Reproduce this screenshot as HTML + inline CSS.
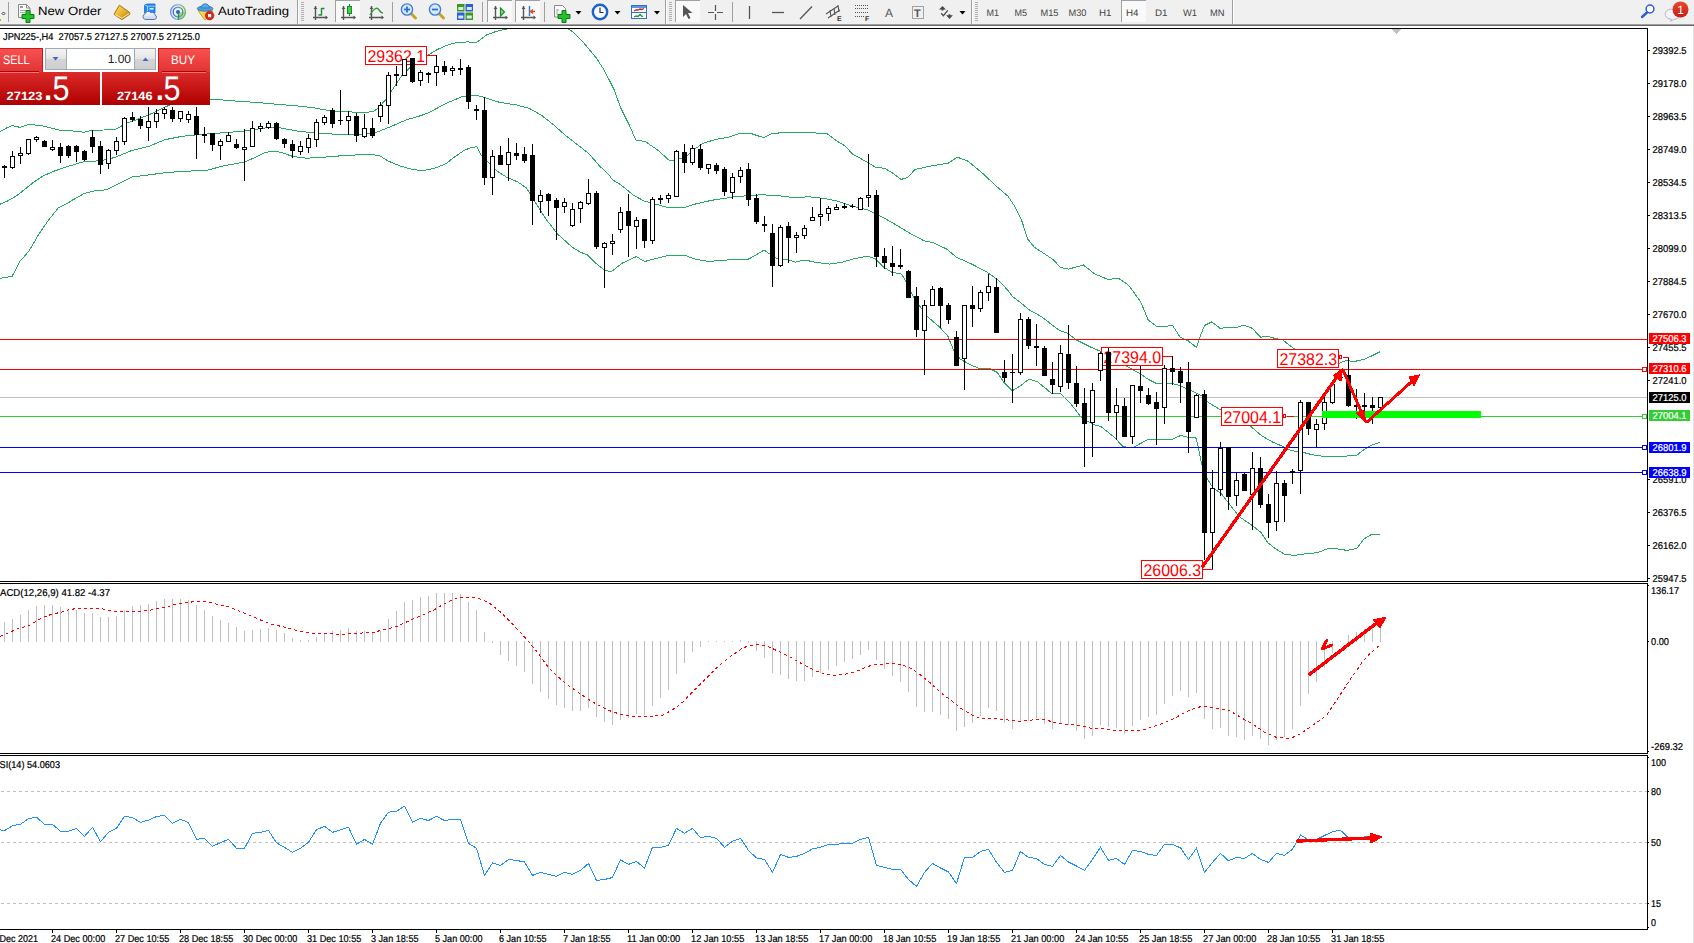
<!DOCTYPE html>
<html><head><meta charset="utf-8"><title>JPN225 H4</title>
<style>html,body{margin:0;padding:0;background:#fff}body{width:1694px;height:943px;overflow:hidden}svg{display:block;font-family:"Liberation Sans", Arial, sans-serif;text-rendering:geometricPrecision}</style>
</head><body>
<svg width="1694" height="943" viewBox="0 0 1694 943">
<rect x="0" y="0" width="1694" height="943" fill="#fff"/>
<g shape-rendering="crispEdges">
<rect x="0" y="28" width="1648" height="1" fill="#000"/>
<rect x="0" y="581" width="1648" height="1" fill="#000"/>
<rect x="0" y="583" width="1648" height="1" fill="#000"/>
<rect x="0" y="753" width="1648" height="1" fill="#000"/>
<rect x="0" y="755" width="1648" height="1" fill="#000"/>
<rect x="0" y="929" width="1648" height="1" fill="#000"/>
<rect x="1647" y="28" width="1" height="554" fill="#000"/>
<rect x="1647" y="583" width="1" height="171" fill="#000"/>
<rect x="1647" y="755" width="1" height="175" fill="#000"/>
<rect x="1693" y="26" width="1" height="917" fill="#e3e3e3"/>
<polygon points="1391,29 1401,29 1396,34" fill="#c0c0c0"/>
<clipPath id="cm"><rect x="0" y="29" width="1647" height="552"/></clipPath>
<g clip-path="url(#cm)">
<polyline fill="none" stroke="#28aa64" stroke-width="1" points="0.0,131.4 6.6,128.0 12.4,125.6 19.8,127.3 29.0,124.4 41.3,125.6 51.0,128.0 61.0,130.6 73.0,131.0 84.0,132.2 92.6,130.2 104.0,130.0 116.0,129.0 121.0,126.4 125.7,123.0 132.0,121.5 149.0,114.8 164.0,107.4 175.0,103.0 190.0,100.0 200.0,99.0 212.5,99.1 231.5,100.8 256.0,102.4 280.0,104.5 296.5,105.8 313.0,107.7 329.6,110.7 346.0,111.9 362.7,112.2 372.6,111.9 377.6,108.6 385.9,99.5 392.5,89.5 402.4,74.7 412.3,65.6 425.5,56.5 437.0,49.8 445.4,45.7 455.3,42.9 467.0,41.9 476.8,42.4 480.0,39.9 486.6,34.9 496.5,31.3 506.5,29.1 511.4,28.6 520.0,27.0 540.0,25.0 560.0,27.0 567.7,28.6 572.6,31.6 582.6,41.5 595.8,57.3 604.0,69.7 614.0,89.5 620.6,107.7 628.9,124.2 635.8,140.0 645.4,141.6 658.6,150.7 669.4,160.6 676.8,159.8 686.7,156.5 693.4,149.9 703.3,143.3 714.9,139.6 728.1,137.3 739.7,133.4 751.3,133.6 763.7,137.7 771.1,133.9 784.4,132.3 807.5,132.3 827.4,133.9 837.3,141.3 845.5,146.3 852.2,153.8 865.4,161.2 875.3,167.0 885.2,168.6 893.5,173.6 901.0,179.4 907.6,177.7 915.0,169.5 931.6,165.8 948.1,163.3 957.2,157.1 968.0,161.2 980.0,171.1 983.3,173.9 996.5,186.4 1008.1,196.3 1014.7,206.2 1021.3,219.4 1027.9,239.3 1034.6,247.5 1040.0,250.9 1053.7,260.0 1060.3,267.4 1068.6,269.1 1083.4,265.0 1095.0,274.1 1108.2,279.5 1118.2,278.2 1128.1,284.8 1132.1,290.0 1140.6,301.7 1148.1,319.8 1156.6,326.4 1167.2,326.1 1172.5,325.3 1179.9,336.8 1188.4,341.0 1196.4,347.4 1200.1,336.8 1204.4,325.6 1211.8,321.9 1220.3,328.5 1225.6,327.4 1237.3,327.2 1243.7,325.1 1252.2,328.3 1260.7,337.3 1267.1,336.2 1274.5,338.3 1283.0,339.9 1289.4,345.3 1293.6,348.4 1310.0,354.0 1325.0,359.0 1339.2,363.3 1346.0,360.5 1354.2,361.5 1365.0,359.2 1373.2,355.1 1380.0,351.7"/>
<polyline fill="none" stroke="#28aa64" stroke-width="1" points="0.0,204.2 8.0,200.8 16.5,195.9 24.8,189.3 33.0,182.7 43.0,176.0 54.6,171.0 66.0,167.0 82.7,162.0 99.0,160.8 107.5,159.5 116.0,157.0 132.0,150.4 149.0,146.3 165.0,139.7 182.0,136.3 198.5,134.7 215.0,133.4 231.5,132.2 248.0,130.6 264.6,128.0 280.0,127.8 296.5,130.9 313.0,132.9 329.6,133.9 346.0,134.7 362.7,134.2 372.6,133.4 379.2,131.2 392.5,125.9 405.7,120.1 420.6,115.7 428.9,112.7 445.4,103.6 462.0,96.7 475.2,95.3 480.0,96.1 490.0,99.4 499.8,102.4 516.4,104.9 529.6,108.5 541.2,115.1 552.8,124.2 566.0,135.8 579.2,146.0 589.2,154.0 595.8,161.5 599.1,165.6 609.0,174.7 612.3,179.6 620.6,184.6 633.8,195.4 643.7,200.8 653.7,203.6 666.9,207.3 685.1,207.3 693.4,204.5 711.6,200.3 736.4,196.5 752.9,195.4 760.0,194.8 776.5,195.4 793.1,197.6 809.6,196.8 826.2,198.8 837.7,201.2 852.6,206.2 867.5,209.8 879.1,215.3 892.3,222.7 908.9,232.7 923.7,240.6 933.7,242.9 946.9,249.2 956.8,257.5 962.7,260.0 973.4,264.9 987.5,272.4 999.1,281.0 1008.1,290.6 1012.3,296.4 1018.0,300.5 1028.9,309.6 1042.1,317.1 1053.7,326.2 1060.0,330.8 1066.9,332.8 1076.5,340.0 1090.0,346.8 1101.6,351.8 1115.0,360.0 1130.0,368.1 1140.6,373.9 1148.1,379.3 1156.6,383.5 1172.5,383.5 1180.0,385.6 1186.3,388.8 1192.3,391.2 1202.2,396.2 1208.9,402.8 1217.0,407.7 1221.3,410.2 1235.0,418.0 1250.2,425.9 1261.8,435.9 1273.4,442.5 1283.3,446.6 1291.6,450.7 1303.1,452.4 1313.0,454.9 1324.6,456.5 1342.0,456.5 1357.0,455.1 1363.6,449.8 1370.2,445.7 1380.1,442.4"/>
<polyline fill="none" stroke="#28aa64" stroke-width="1" points="0.0,278.3 12.1,276.3 20.1,261.2 29.0,251.0 38.0,235.6 48.0,220.7 58.4,207.8 68.5,202.7 71.0,200.9 84.4,193.4 94.0,191.0 106.0,189.8 119.0,183.5 132.0,176.9 149.0,174.9 165.0,172.7 182.0,171.4 207.0,170.3 223.0,166.0 245.0,162.0 256.0,157.0 264.6,152.6 273.0,151.2 280.0,152.1 293.0,156.5 306.5,158.2 321.3,157.4 346.0,155.4 369.3,154.4 379.2,155.4 387.5,160.7 399.0,165.6 412.3,169.4 422.2,170.6 433.8,168.6 445.4,164.0 455.3,156.5 463.6,150.7 470.2,147.8 476.8,146.6 481.0,155.0 488.3,162.3 496.5,170.6 506.5,177.2 518.0,182.1 526.3,187.9 534.6,201.2 546.2,219.4 557.7,234.2 572.6,247.5 580.9,252.4 587.5,254.9 595.8,263.2 604.9,270.6 611.5,271.5 622.2,263.2 636.3,256.6 644.6,261.5 655.3,258.7 666.9,255.7 685.1,255.4 693.4,258.7 708.2,261.5 728.1,259.9 747.9,259.4 760.0,252.6 764.0,250.0 770.0,254.2 776.5,258.3 786.5,259.5 795.6,262.1 804.7,260.0 816.2,262.4 829.5,264.1 842.7,262.1 852.6,259.1 867.5,256.1 875.8,259.1 884.0,267.4 892.3,272.4 901.5,274.1 906.5,282.3 914.7,299.7 928.0,317.1 939.5,327.0 947.8,336.1 953.6,350.1 960.2,359.2 972.6,365.9 979.2,368.3 989.2,368.3 997.4,372.5 1004.0,382.4 1012.3,390.7 1020.6,385.7 1028.9,379.1 1037.2,381.6 1045.4,388.2 1052.0,394.0 1060.3,393.3 1070.0,402.8 1081.5,417.7 1093.0,424.3 1101.3,426.8 1114.6,437.5 1122.9,446.6 1132.8,447.8 1147.7,439.5 1159.2,440.0 1172.5,439.2 1180.7,435.5 1190.7,438.0 1195.7,437.4 1198.2,446.5 1201.5,463.1 1207.3,478.8 1213.0,487.9 1221.4,493.7 1229.6,504.4 1239.5,516.8 1252.8,525.9 1261.0,532.5 1267.7,542.5 1275.9,549.1 1284.2,554.0 1294.1,555.4 1305.7,553.7 1317.3,552.7 1328.9,548.3 1338.8,549.1 1347.0,550.4 1357.0,548.3 1363.6,539.2 1371.9,534.2 1380.1,534.2"/>
<rect x="0" y="397" width="1647" height="1" fill="#c0c0c0"/>
<rect x="0" y="339" width="1647" height="1" fill="#ff0000"/>
<rect x="0" y="369" width="1647" height="1" fill="#ff0000"/>
<rect x="0" y="416" width="1647" height="1" fill="#32cd32"/>
<rect x="0" y="447" width="1647" height="1" fill="#0000ff"/>
<rect x="0" y="472" width="1647" height="1" fill="#0000ff"/>
<rect x="1642.5" y="367.5" width="4" height="4" fill="#fff" stroke="#ff0000" stroke-width="1"/>
<rect x="1642.5" y="414.5" width="4" height="4" fill="#fff" stroke="#32cd32" stroke-width="1"/>
<rect x="1642.5" y="445.5" width="4" height="4" fill="#fff" stroke="#0000ff" stroke-width="1"/>
<rect x="1642.5" y="470.5" width="4" height="4" fill="#fff" stroke="#0000ff" stroke-width="1"/>
</g>
</g>
<g shape-rendering="crispEdges">
<rect x="365.5" y="46.5" width="61" height="18" fill="#fff" stroke="#ff0000" stroke-width="1"/>
<polyline fill="none" stroke="#ff0000" stroke-width="1" points="426.5,55.5 436.5,55.5"/>
<rect x="1101.5" y="347.5" width="61" height="18" fill="#fff" stroke="#ff0000" stroke-width="1"/>
<polyline fill="none" stroke="#ff0000" stroke-width="1" points="1162.5,356.5 1172.5,356.5"/>
<rect x="1221.5" y="407.5" width="61" height="18" fill="#fff" stroke="#ff0000" stroke-width="1"/>
<polyline fill="none" stroke="#ff0000" stroke-width="1" points="1286.5,416.5 1293.5,416.5"/>
<rect x="1277.5" y="349.5" width="61" height="18" fill="#fff" stroke="#ff0000" stroke-width="1"/>
<polyline fill="none" stroke="#ff0000" stroke-width="1" points="1342.5,357.5 1348.5,357.5"/>
<rect x="1141.5" y="560.5" width="61" height="18" fill="#fff" stroke="#ff0000" stroke-width="1"/>
<polyline fill="none" stroke="#ff0000" stroke-width="1" points="1202.5,569.5 1212.5,569.5"/>
<rect x="1283.5" y="414.5" width="2" height="3" fill="#fff" stroke="#ff0000"/>
<rect x="1339.5" y="355.5" width="2" height="3" fill="#fff" stroke="#ff0000"/>
</g>
<text x="367.5" y="62" font-size="17" fill="#ff0000" textLength="57.5" lengthAdjust="spacingAndGlyphs" >29362.1</text>
<text x="1103.5" y="363" font-size="17" fill="#ff0000" textLength="57.5" lengthAdjust="spacingAndGlyphs" >27394.0</text>
<text x="1223.5" y="423" font-size="17" fill="#ff0000" textLength="57.5" lengthAdjust="spacingAndGlyphs" >27004.1</text>
<text x="1279.5" y="365" font-size="17" fill="#ff0000" textLength="57.5" lengthAdjust="spacingAndGlyphs" >27382.3</text>
<text x="1143.5" y="576" font-size="17" fill="#ff0000" textLength="57.5" lengthAdjust="spacingAndGlyphs" >26006.3</text>
<g shape-rendering="crispEdges">
<rect x="4" y="165" width="1" height="13" fill="#000"/>
<rect x="2" y="166" width="5" height="2" fill="#000"/>
<rect x="12" y="151" width="1" height="18" fill="#000"/>
<rect x="10" y="156" width="5" height="12" fill="#000"/>
<rect x="11" y="157" width="3" height="10" fill="#fff"/>
<rect x="20" y="147" width="1" height="17" fill="#000"/>
<rect x="18" y="153" width="5" height="3" fill="#000"/>
<rect x="19" y="154" width="3" height="1" fill="#fff"/>
<rect x="28" y="139" width="1" height="16" fill="#000"/>
<rect x="26" y="139" width="5" height="15" fill="#000"/>
<rect x="27" y="140" width="3" height="13" fill="#fff"/>
<rect x="36" y="136" width="1" height="6" fill="#000"/>
<rect x="34" y="137" width="5" height="3" fill="#000"/>
<rect x="35" y="138" width="3" height="1" fill="#fff"/>
<rect x="44" y="140" width="1" height="7" fill="#000"/>
<rect x="42" y="141" width="5" height="6" fill="#000"/>
<rect x="52" y="140" width="1" height="11" fill="#000"/>
<rect x="50" y="147" width="5" height="3" fill="#000"/>
<rect x="51" y="148" width="3" height="1" fill="#fff"/>
<rect x="60" y="143" width="1" height="20" fill="#000"/>
<rect x="58" y="147" width="5" height="9" fill="#000"/>
<rect x="68" y="145" width="1" height="13" fill="#000"/>
<rect x="66" y="146" width="5" height="10" fill="#000"/>
<rect x="76" y="145" width="1" height="17" fill="#000"/>
<rect x="74" y="146" width="5" height="6" fill="#000"/>
<rect x="84" y="150" width="1" height="11" fill="#000"/>
<rect x="82" y="151" width="5" height="9" fill="#000"/>
<rect x="92" y="130" width="1" height="23" fill="#000"/>
<rect x="90" y="137" width="5" height="10" fill="#000"/>
<rect x="100" y="141" width="1" height="33" fill="#000"/>
<rect x="98" y="146" width="5" height="19" fill="#000"/>
<rect x="108" y="149" width="1" height="20" fill="#000"/>
<rect x="106" y="150" width="5" height="14" fill="#000"/>
<rect x="107" y="151" width="3" height="12" fill="#fff"/>
<rect x="116" y="137" width="1" height="18" fill="#000"/>
<rect x="114" y="141" width="5" height="10" fill="#000"/>
<rect x="115" y="142" width="3" height="8" fill="#fff"/>
<rect x="124" y="117" width="1" height="28" fill="#000"/>
<rect x="122" y="118" width="5" height="24" fill="#000"/>
<rect x="123" y="119" width="3" height="22" fill="#fff"/>
<rect x="132" y="112" width="1" height="10" fill="#000"/>
<rect x="130" y="117" width="5" height="3" fill="#000"/>
<rect x="140" y="116" width="1" height="13" fill="#000"/>
<rect x="138" y="119" width="5" height="7" fill="#000"/>
<rect x="148" y="107" width="1" height="34" fill="#000"/>
<rect x="146" y="121" width="5" height="7" fill="#000"/>
<rect x="147" y="122" width="3" height="5" fill="#fff"/>
<rect x="156" y="109" width="1" height="19" fill="#000"/>
<rect x="154" y="113" width="5" height="9" fill="#000"/>
<rect x="155" y="114" width="3" height="7" fill="#fff"/>
<rect x="164" y="107" width="1" height="12" fill="#000"/>
<rect x="162" y="109" width="5" height="5" fill="#000"/>
<rect x="163" y="110" width="3" height="3" fill="#fff"/>
<rect x="172" y="107" width="1" height="15" fill="#000"/>
<rect x="170" y="110" width="5" height="9" fill="#000"/>
<rect x="180" y="111" width="1" height="11" fill="#000"/>
<rect x="178" y="111" width="5" height="8" fill="#000"/>
<rect x="179" y="112" width="3" height="6" fill="#fff"/>
<rect x="188" y="111" width="1" height="12" fill="#000"/>
<rect x="186" y="114" width="5" height="6" fill="#000"/>
<rect x="187" y="115" width="3" height="4" fill="#fff"/>
<rect x="196" y="107" width="1" height="52" fill="#000"/>
<rect x="194" y="116" width="5" height="19" fill="#000"/>
<rect x="204" y="127" width="1" height="16" fill="#000"/>
<rect x="202" y="134" width="5" height="2" fill="#000"/>
<rect x="212" y="133" width="1" height="18" fill="#000"/>
<rect x="210" y="133" width="5" height="12" fill="#000"/>
<rect x="220" y="139" width="1" height="21" fill="#000"/>
<rect x="218" y="141" width="5" height="5" fill="#000"/>
<rect x="219" y="142" width="3" height="3" fill="#fff"/>
<rect x="228" y="132" width="1" height="10" fill="#000"/>
<rect x="226" y="135" width="5" height="7" fill="#000"/>
<rect x="227" y="136" width="3" height="5" fill="#fff"/>
<rect x="236" y="139" width="1" height="10" fill="#000"/>
<rect x="234" y="144" width="5" height="4" fill="#000"/>
<rect x="244" y="129" width="1" height="52" fill="#000"/>
<rect x="242" y="147" width="5" height="3" fill="#000"/>
<rect x="243" y="148" width="3" height="1" fill="#fff"/>
<rect x="252" y="121" width="1" height="26" fill="#000"/>
<rect x="250" y="128" width="5" height="19" fill="#000"/>
<rect x="251" y="129" width="3" height="17" fill="#fff"/>
<rect x="260" y="123" width="1" height="9" fill="#000"/>
<rect x="258" y="126" width="5" height="3" fill="#000"/>
<rect x="259" y="127" width="3" height="1" fill="#fff"/>
<rect x="268" y="121" width="1" height="8" fill="#000"/>
<rect x="266" y="123" width="5" height="5" fill="#000"/>
<rect x="267" y="124" width="3" height="3" fill="#fff"/>
<rect x="276" y="122" width="1" height="18" fill="#000"/>
<rect x="274" y="123" width="5" height="16" fill="#000"/>
<rect x="284" y="138" width="1" height="10" fill="#000"/>
<rect x="282" y="139" width="5" height="5" fill="#000"/>
<rect x="292" y="140" width="1" height="18" fill="#000"/>
<rect x="290" y="144" width="5" height="7" fill="#000"/>
<rect x="300" y="141" width="1" height="14" fill="#000"/>
<rect x="298" y="146" width="5" height="6" fill="#000"/>
<rect x="299" y="147" width="3" height="4" fill="#fff"/>
<rect x="308" y="134" width="1" height="19" fill="#000"/>
<rect x="306" y="138" width="5" height="10" fill="#000"/>
<rect x="307" y="139" width="3" height="8" fill="#fff"/>
<rect x="316" y="119" width="1" height="28" fill="#000"/>
<rect x="314" y="122" width="5" height="18" fill="#000"/>
<rect x="315" y="123" width="3" height="16" fill="#fff"/>
<rect x="324" y="115" width="1" height="10" fill="#000"/>
<rect x="322" y="117" width="5" height="6" fill="#000"/>
<rect x="323" y="118" width="3" height="4" fill="#fff"/>
<rect x="332" y="108" width="1" height="20" fill="#000"/>
<rect x="330" y="110" width="5" height="14" fill="#000"/>
<rect x="340" y="90" width="1" height="35" fill="#000"/>
<rect x="338" y="120" width="5" height="1" fill="#000"/>
<rect x="348" y="111" width="1" height="24" fill="#000"/>
<rect x="346" y="116" width="5" height="5" fill="#000"/>
<rect x="347" y="117" width="3" height="3" fill="#fff"/>
<rect x="356" y="113" width="1" height="29" fill="#000"/>
<rect x="354" y="116" width="5" height="20" fill="#000"/>
<rect x="364" y="114" width="1" height="24" fill="#000"/>
<rect x="362" y="128" width="5" height="9" fill="#000"/>
<rect x="363" y="129" width="3" height="7" fill="#fff"/>
<rect x="372" y="118" width="1" height="20" fill="#000"/>
<rect x="370" y="128" width="5" height="8" fill="#000"/>
<rect x="380" y="102" width="1" height="20" fill="#000"/>
<rect x="378" y="105" width="5" height="12" fill="#000"/>
<rect x="379" y="106" width="3" height="10" fill="#fff"/>
<rect x="388" y="72" width="1" height="52" fill="#000"/>
<rect x="386" y="75" width="5" height="31" fill="#000"/>
<rect x="387" y="76" width="3" height="29" fill="#fff"/>
<rect x="396" y="66" width="1" height="20" fill="#000"/>
<rect x="394" y="74" width="5" height="2" fill="#000"/>
<rect x="404" y="59" width="1" height="17" fill="#000"/>
<rect x="402" y="59" width="5" height="17" fill="#000"/>
<rect x="403" y="60" width="3" height="15" fill="#fff"/>
<rect x="412" y="58" width="1" height="25" fill="#000"/>
<rect x="410" y="58" width="5" height="24" fill="#000"/>
<rect x="420" y="70" width="1" height="16" fill="#000"/>
<rect x="418" y="72" width="5" height="9" fill="#000"/>
<rect x="419" y="73" width="3" height="7" fill="#fff"/>
<rect x="428" y="72" width="1" height="11" fill="#000"/>
<rect x="426" y="73" width="5" height="2" fill="#000"/>
<rect x="436" y="55" width="1" height="31" fill="#000"/>
<rect x="434" y="66" width="5" height="7" fill="#000"/>
<rect x="435" y="67" width="3" height="5" fill="#fff"/>
<rect x="444" y="61" width="1" height="14" fill="#000"/>
<rect x="442" y="66" width="5" height="6" fill="#000"/>
<rect x="452" y="66" width="1" height="10" fill="#000"/>
<rect x="450" y="68" width="5" height="3" fill="#000"/>
<rect x="451" y="69" width="3" height="1" fill="#fff"/>
<rect x="460" y="59" width="1" height="16" fill="#000"/>
<rect x="458" y="68" width="5" height="2" fill="#000"/>
<rect x="468" y="65" width="1" height="44" fill="#000"/>
<rect x="466" y="67" width="5" height="35" fill="#000"/>
<rect x="476" y="105" width="1" height="15" fill="#000"/>
<rect x="474" y="109" width="5" height="2" fill="#000"/>
<rect x="484" y="97" width="1" height="88" fill="#000"/>
<rect x="482" y="110" width="5" height="68" fill="#000"/>
<rect x="492" y="150" width="1" height="45" fill="#000"/>
<rect x="490" y="156" width="5" height="22" fill="#000"/>
<rect x="491" y="157" width="3" height="20" fill="#fff"/>
<rect x="500" y="146" width="1" height="19" fill="#000"/>
<rect x="498" y="155" width="5" height="10" fill="#000"/>
<rect x="508" y="138" width="1" height="43" fill="#000"/>
<rect x="506" y="152" width="5" height="13" fill="#000"/>
<rect x="507" y="153" width="3" height="11" fill="#fff"/>
<rect x="516" y="143" width="1" height="17" fill="#000"/>
<rect x="514" y="153" width="5" height="3" fill="#000"/>
<rect x="524" y="147" width="1" height="16" fill="#000"/>
<rect x="522" y="154" width="5" height="7" fill="#000"/>
<rect x="532" y="144" width="1" height="81" fill="#000"/>
<rect x="530" y="155" width="5" height="46" fill="#000"/>
<rect x="540" y="190" width="1" height="23" fill="#000"/>
<rect x="538" y="195" width="5" height="7" fill="#000"/>
<rect x="539" y="196" width="3" height="5" fill="#fff"/>
<rect x="548" y="193" width="1" height="23" fill="#000"/>
<rect x="546" y="194" width="5" height="7" fill="#000"/>
<rect x="556" y="198" width="1" height="42" fill="#000"/>
<rect x="554" y="200" width="5" height="8" fill="#000"/>
<rect x="564" y="198" width="1" height="15" fill="#000"/>
<rect x="562" y="202" width="5" height="5" fill="#000"/>
<rect x="563" y="203" width="3" height="3" fill="#fff"/>
<rect x="572" y="203" width="1" height="24" fill="#000"/>
<rect x="570" y="209" width="5" height="17" fill="#000"/>
<rect x="571" y="210" width="3" height="15" fill="#fff"/>
<rect x="580" y="201" width="1" height="22" fill="#000"/>
<rect x="578" y="202" width="5" height="7" fill="#000"/>
<rect x="579" y="203" width="3" height="5" fill="#fff"/>
<rect x="588" y="179" width="1" height="26" fill="#000"/>
<rect x="586" y="193" width="5" height="11" fill="#000"/>
<rect x="587" y="194" width="3" height="9" fill="#fff"/>
<rect x="596" y="191" width="1" height="58" fill="#000"/>
<rect x="594" y="193" width="5" height="54" fill="#000"/>
<rect x="604" y="242" width="1" height="46" fill="#000"/>
<rect x="602" y="243" width="5" height="5" fill="#000"/>
<rect x="603" y="244" width="3" height="3" fill="#fff"/>
<rect x="612" y="234" width="1" height="21" fill="#000"/>
<rect x="610" y="241" width="5" height="3" fill="#000"/>
<rect x="611" y="242" width="3" height="1" fill="#fff"/>
<rect x="620" y="207" width="1" height="26" fill="#000"/>
<rect x="618" y="212" width="5" height="18" fill="#000"/>
<rect x="619" y="213" width="3" height="16" fill="#fff"/>
<rect x="628" y="194" width="1" height="63" fill="#000"/>
<rect x="626" y="211" width="5" height="15" fill="#000"/>
<rect x="636" y="217" width="1" height="32" fill="#000"/>
<rect x="634" y="220" width="5" height="7" fill="#000"/>
<rect x="635" y="221" width="3" height="5" fill="#fff"/>
<rect x="644" y="219" width="1" height="29" fill="#000"/>
<rect x="642" y="219" width="5" height="22" fill="#000"/>
<rect x="652" y="197" width="1" height="47" fill="#000"/>
<rect x="650" y="199" width="5" height="42" fill="#000"/>
<rect x="651" y="200" width="3" height="40" fill="#fff"/>
<rect x="660" y="195" width="1" height="9" fill="#000"/>
<rect x="658" y="198" width="5" height="2" fill="#000"/>
<rect x="668" y="193" width="1" height="10" fill="#000"/>
<rect x="666" y="195" width="5" height="4" fill="#000"/>
<rect x="667" y="196" width="3" height="2" fill="#fff"/>
<rect x="676" y="150" width="1" height="47" fill="#000"/>
<rect x="674" y="151" width="5" height="46" fill="#000"/>
<rect x="675" y="152" width="3" height="44" fill="#fff"/>
<rect x="684" y="144" width="1" height="29" fill="#000"/>
<rect x="682" y="152" width="5" height="11" fill="#000"/>
<rect x="692" y="145" width="1" height="20" fill="#000"/>
<rect x="690" y="148" width="5" height="15" fill="#000"/>
<rect x="691" y="149" width="3" height="13" fill="#fff"/>
<rect x="700" y="144" width="1" height="26" fill="#000"/>
<rect x="698" y="149" width="5" height="19" fill="#000"/>
<rect x="708" y="164" width="1" height="10" fill="#000"/>
<rect x="706" y="164" width="5" height="5" fill="#000"/>
<rect x="707" y="165" width="3" height="3" fill="#fff"/>
<rect x="716" y="163" width="1" height="11" fill="#000"/>
<rect x="714" y="165" width="5" height="6" fill="#000"/>
<rect x="724" y="167" width="1" height="29" fill="#000"/>
<rect x="722" y="169" width="5" height="23" fill="#000"/>
<rect x="732" y="173" width="1" height="26" fill="#000"/>
<rect x="730" y="177" width="5" height="16" fill="#000"/>
<rect x="731" y="178" width="3" height="14" fill="#fff"/>
<rect x="740" y="167" width="1" height="16" fill="#000"/>
<rect x="738" y="170" width="5" height="7" fill="#000"/>
<rect x="739" y="171" width="3" height="5" fill="#fff"/>
<rect x="748" y="163" width="1" height="43" fill="#000"/>
<rect x="746" y="169" width="5" height="31" fill="#000"/>
<rect x="756" y="194" width="1" height="30" fill="#000"/>
<rect x="754" y="198" width="5" height="24" fill="#000"/>
<rect x="764" y="216" width="1" height="16" fill="#000"/>
<rect x="762" y="224" width="5" height="2" fill="#000"/>
<rect x="772" y="224" width="1" height="63" fill="#000"/>
<rect x="770" y="233" width="5" height="33" fill="#000"/>
<rect x="780" y="225" width="1" height="42" fill="#000"/>
<rect x="778" y="227" width="5" height="39" fill="#000"/>
<rect x="779" y="228" width="3" height="37" fill="#fff"/>
<rect x="788" y="222" width="1" height="41" fill="#000"/>
<rect x="786" y="226" width="5" height="12" fill="#000"/>
<rect x="796" y="232" width="1" height="21" fill="#000"/>
<rect x="794" y="235" width="5" height="3" fill="#000"/>
<rect x="795" y="236" width="3" height="1" fill="#fff"/>
<rect x="804" y="225" width="1" height="14" fill="#000"/>
<rect x="802" y="228" width="5" height="8" fill="#000"/>
<rect x="803" y="229" width="3" height="6" fill="#fff"/>
<rect x="812" y="207" width="1" height="14" fill="#000"/>
<rect x="810" y="217" width="5" height="4" fill="#000"/>
<rect x="811" y="218" width="3" height="2" fill="#fff"/>
<rect x="820" y="198" width="1" height="28" fill="#000"/>
<rect x="818" y="214" width="5" height="3" fill="#000"/>
<rect x="819" y="215" width="3" height="1" fill="#fff"/>
<rect x="828" y="206" width="1" height="15" fill="#000"/>
<rect x="826" y="208" width="5" height="6" fill="#000"/>
<rect x="827" y="209" width="3" height="4" fill="#fff"/>
<rect x="836" y="204" width="1" height="6" fill="#000"/>
<rect x="834" y="207" width="5" height="3" fill="#000"/>
<rect x="835" y="208" width="3" height="1" fill="#fff"/>
<rect x="844" y="203" width="1" height="6" fill="#000"/>
<rect x="842" y="206" width="5" height="2" fill="#000"/>
<rect x="852" y="204" width="1" height="4" fill="#000"/>
<rect x="850" y="206" width="5" height="1" fill="#000"/>
<rect x="860" y="197" width="1" height="13" fill="#000"/>
<rect x="858" y="198" width="5" height="12" fill="#000"/>
<rect x="859" y="199" width="3" height="10" fill="#fff"/>
<rect x="868" y="154" width="1" height="53" fill="#000"/>
<rect x="866" y="195" width="5" height="3" fill="#000"/>
<rect x="867" y="196" width="3" height="1" fill="#fff"/>
<rect x="876" y="190" width="1" height="77" fill="#000"/>
<rect x="874" y="195" width="5" height="62" fill="#000"/>
<rect x="884" y="248" width="1" height="21" fill="#000"/>
<rect x="882" y="256" width="5" height="7" fill="#000"/>
<rect x="892" y="246" width="1" height="30" fill="#000"/>
<rect x="890" y="263" width="5" height="4" fill="#000"/>
<rect x="900" y="249" width="1" height="20" fill="#000"/>
<rect x="898" y="265" width="5" height="2" fill="#000"/>
<rect x="908" y="270" width="1" height="28" fill="#000"/>
<rect x="906" y="271" width="5" height="27" fill="#000"/>
<rect x="916" y="287" width="1" height="50" fill="#000"/>
<rect x="914" y="296" width="5" height="34" fill="#000"/>
<rect x="924" y="300" width="1" height="75" fill="#000"/>
<rect x="922" y="305" width="5" height="26" fill="#000"/>
<rect x="923" y="306" width="3" height="24" fill="#fff"/>
<rect x="932" y="286" width="1" height="20" fill="#000"/>
<rect x="930" y="289" width="5" height="17" fill="#000"/>
<rect x="931" y="290" width="3" height="15" fill="#fff"/>
<rect x="940" y="287" width="1" height="41" fill="#000"/>
<rect x="938" y="288" width="5" height="18" fill="#000"/>
<rect x="948" y="303" width="1" height="21" fill="#000"/>
<rect x="946" y="305" width="5" height="15" fill="#000"/>
<rect x="956" y="331" width="1" height="35" fill="#000"/>
<rect x="954" y="337" width="5" height="29" fill="#000"/>
<rect x="964" y="305" width="1" height="85" fill="#000"/>
<rect x="962" y="305" width="5" height="54" fill="#000"/>
<rect x="963" y="306" width="3" height="52" fill="#fff"/>
<rect x="972" y="286" width="1" height="41" fill="#000"/>
<rect x="970" y="305" width="5" height="4" fill="#000"/>
<rect x="980" y="290" width="1" height="22" fill="#000"/>
<rect x="978" y="292" width="5" height="17" fill="#000"/>
<rect x="979" y="293" width="3" height="15" fill="#fff"/>
<rect x="988" y="274" width="1" height="27" fill="#000"/>
<rect x="986" y="286" width="5" height="7" fill="#000"/>
<rect x="987" y="287" width="3" height="5" fill="#fff"/>
<rect x="996" y="278" width="1" height="55" fill="#000"/>
<rect x="994" y="287" width="5" height="46" fill="#000"/>
<rect x="1004" y="360" width="1" height="22" fill="#000"/>
<rect x="1002" y="372" width="5" height="6" fill="#000"/>
<rect x="1012" y="354" width="1" height="49" fill="#000"/>
<rect x="1010" y="372" width="5" height="1" fill="#000"/>
<rect x="1020" y="313" width="1" height="62" fill="#000"/>
<rect x="1018" y="319" width="5" height="54" fill="#000"/>
<rect x="1019" y="320" width="3" height="52" fill="#fff"/>
<rect x="1028" y="317" width="1" height="32" fill="#000"/>
<rect x="1026" y="319" width="5" height="27" fill="#000"/>
<rect x="1036" y="324" width="1" height="42" fill="#000"/>
<rect x="1034" y="346" width="5" height="2" fill="#000"/>
<rect x="1044" y="346" width="1" height="30" fill="#000"/>
<rect x="1042" y="348" width="5" height="28" fill="#000"/>
<rect x="1052" y="362" width="1" height="32" fill="#000"/>
<rect x="1050" y="379" width="5" height="6" fill="#000"/>
<rect x="1060" y="345" width="1" height="47" fill="#000"/>
<rect x="1058" y="353" width="5" height="34" fill="#000"/>
<rect x="1059" y="354" width="3" height="32" fill="#fff"/>
<rect x="1068" y="325" width="1" height="64" fill="#000"/>
<rect x="1066" y="354" width="5" height="29" fill="#000"/>
<rect x="1076" y="366" width="1" height="41" fill="#000"/>
<rect x="1074" y="383" width="5" height="21" fill="#000"/>
<rect x="1084" y="388" width="1" height="79" fill="#000"/>
<rect x="1082" y="403" width="5" height="21" fill="#000"/>
<rect x="1092" y="383" width="1" height="74" fill="#000"/>
<rect x="1090" y="390" width="5" height="33" fill="#000"/>
<rect x="1091" y="391" width="3" height="31" fill="#fff"/>
<rect x="1100" y="352" width="1" height="29" fill="#000"/>
<rect x="1098" y="353" width="5" height="18" fill="#000"/>
<rect x="1099" y="354" width="3" height="16" fill="#fff"/>
<rect x="1108" y="348" width="1" height="73" fill="#000"/>
<rect x="1106" y="352" width="5" height="61" fill="#000"/>
<rect x="1116" y="388" width="1" height="52" fill="#000"/>
<rect x="1114" y="405" width="5" height="8" fill="#000"/>
<rect x="1115" y="406" width="3" height="6" fill="#fff"/>
<rect x="1124" y="398" width="1" height="39" fill="#000"/>
<rect x="1122" y="406" width="5" height="31" fill="#000"/>
<rect x="1132" y="385" width="1" height="59" fill="#000"/>
<rect x="1130" y="385" width="5" height="52" fill="#000"/>
<rect x="1131" y="386" width="3" height="50" fill="#fff"/>
<rect x="1140" y="366" width="1" height="37" fill="#000"/>
<rect x="1138" y="386" width="5" height="5" fill="#000"/>
<rect x="1148" y="388" width="1" height="17" fill="#000"/>
<rect x="1146" y="395" width="5" height="9" fill="#000"/>
<rect x="1156" y="392" width="1" height="53" fill="#000"/>
<rect x="1154" y="402" width="5" height="7" fill="#000"/>
<rect x="1164" y="365" width="1" height="59" fill="#000"/>
<rect x="1162" y="368" width="5" height="40" fill="#000"/>
<rect x="1163" y="369" width="3" height="38" fill="#fff"/>
<rect x="1172" y="356" width="1" height="29" fill="#000"/>
<rect x="1170" y="368" width="5" height="4" fill="#000"/>
<rect x="1180" y="367" width="1" height="36" fill="#000"/>
<rect x="1178" y="371" width="5" height="12" fill="#000"/>
<rect x="1188" y="362" width="1" height="91" fill="#000"/>
<rect x="1186" y="382" width="5" height="50" fill="#000"/>
<rect x="1196" y="394" width="1" height="24" fill="#000"/>
<rect x="1194" y="395" width="5" height="23" fill="#000"/>
<rect x="1195" y="396" width="3" height="21" fill="#fff"/>
<rect x="1204" y="390" width="1" height="170" fill="#000"/>
<rect x="1202" y="394" width="5" height="139" fill="#000"/>
<rect x="1212" y="470" width="1" height="99" fill="#000"/>
<rect x="1210" y="488" width="5" height="45" fill="#000"/>
<rect x="1211" y="489" width="3" height="43" fill="#fff"/>
<rect x="1220" y="442" width="1" height="54" fill="#000"/>
<rect x="1218" y="448" width="5" height="42" fill="#000"/>
<rect x="1219" y="449" width="3" height="40" fill="#fff"/>
<rect x="1228" y="447" width="1" height="63" fill="#000"/>
<rect x="1226" y="447" width="5" height="50" fill="#000"/>
<rect x="1236" y="472" width="1" height="34" fill="#000"/>
<rect x="1234" y="480" width="5" height="16" fill="#000"/>
<rect x="1235" y="481" width="3" height="14" fill="#fff"/>
<rect x="1244" y="473" width="1" height="18" fill="#000"/>
<rect x="1242" y="474" width="5" height="17" fill="#000"/>
<rect x="1252" y="452" width="1" height="78" fill="#000"/>
<rect x="1250" y="468" width="5" height="27" fill="#000"/>
<rect x="1251" y="469" width="3" height="25" fill="#fff"/>
<rect x="1260" y="457" width="1" height="51" fill="#000"/>
<rect x="1258" y="468" width="5" height="37" fill="#000"/>
<rect x="1268" y="494" width="1" height="44" fill="#000"/>
<rect x="1266" y="504" width="5" height="19" fill="#000"/>
<rect x="1276" y="471" width="1" height="60" fill="#000"/>
<rect x="1274" y="483" width="5" height="39" fill="#000"/>
<rect x="1275" y="484" width="3" height="37" fill="#fff"/>
<rect x="1284" y="480" width="1" height="42" fill="#000"/>
<rect x="1282" y="483" width="5" height="13" fill="#000"/>
<rect x="1292" y="469" width="1" height="15" fill="#000"/>
<rect x="1290" y="471" width="5" height="2" fill="#000"/>
<rect x="1300" y="400" width="1" height="94" fill="#000"/>
<rect x="1298" y="402" width="5" height="69" fill="#000"/>
<rect x="1299" y="403" width="3" height="67" fill="#fff"/>
<rect x="1308" y="402" width="1" height="33" fill="#000"/>
<rect x="1306" y="402" width="5" height="27" fill="#000"/>
<rect x="1316" y="419" width="1" height="28" fill="#000"/>
<rect x="1314" y="424" width="5" height="6" fill="#000"/>
<rect x="1315" y="425" width="3" height="4" fill="#fff"/>
<rect x="1324" y="397" width="1" height="33" fill="#000"/>
<rect x="1322" y="402" width="5" height="22" fill="#000"/>
<rect x="1323" y="403" width="3" height="20" fill="#fff"/>
<rect x="1332" y="380" width="1" height="24" fill="#000"/>
<rect x="1330" y="384" width="5" height="19" fill="#000"/>
<rect x="1331" y="385" width="3" height="17" fill="#fff"/>
<rect x="1340" y="376" width="1" height="5" fill="#000"/>
<rect x="1338" y="377" width="5" height="1" fill="#000"/>
<rect x="1348" y="358" width="1" height="49" fill="#000"/>
<rect x="1346" y="375" width="5" height="31" fill="#000"/>
<rect x="1356" y="389" width="1" height="30" fill="#000"/>
<rect x="1354" y="405" width="5" height="2" fill="#000"/>
<rect x="1364" y="393" width="1" height="25" fill="#000"/>
<rect x="1362" y="405" width="5" height="2" fill="#000"/>
<rect x="1372" y="397" width="1" height="27" fill="#000"/>
<rect x="1370" y="405" width="5" height="3" fill="#000"/>
<rect x="1380" y="397" width="1" height="19" fill="#000"/>
<rect x="1378" y="397" width="5" height="11" fill="#000"/>
<rect x="1379" y="398" width="3" height="9" fill="#fff"/>
</g>
<g clip-path="url(#cm)">
<rect x="1322" y="411" width="159" height="7" fill="#00ff00" shape-rendering="crispEdges"/>
<g stroke="#ff0000" fill="#ff0000" stroke-linecap="round" stroke-linejoin="round" shape-rendering="crispEdges">
<line x1="1203" y1="566" x2="1339" y2="374" stroke-width="3.3"/>
<polygon points="1342.5,368.5 1333.5,375.5 1341,381" stroke-width="1"/>
<line x1="1343" y1="370" x2="1364" y2="418" stroke-width="3"/>
<polygon points="1366,422.5 1356.5,413 1364,410.5" stroke-width="1"/>
<line x1="1367" y1="422" x2="1414" y2="379.5" stroke-width="3"/>
<polygon points="1419.5,375 1409,377 1414,385.5" stroke-width="1"/>
</g>
</g>
<g shape-rendering="crispEdges">
<rect x="4" y="622" width="1" height="20" fill="#c0c0c0"/>
<rect x="12" y="619" width="1" height="23" fill="#c0c0c0"/>
<rect x="20" y="615" width="1" height="27" fill="#c0c0c0"/>
<rect x="28" y="610" width="1" height="32" fill="#c0c0c0"/>
<rect x="36" y="606" width="1" height="36" fill="#c0c0c0"/>
<rect x="44" y="605" width="1" height="37" fill="#c0c0c0"/>
<rect x="52" y="605" width="1" height="37" fill="#c0c0c0"/>
<rect x="60" y="607" width="1" height="35" fill="#c0c0c0"/>
<rect x="68" y="610" width="1" height="32" fill="#c0c0c0"/>
<rect x="76" y="610" width="1" height="32" fill="#c0c0c0"/>
<rect x="84" y="613" width="1" height="29" fill="#c0c0c0"/>
<rect x="92" y="613" width="1" height="29" fill="#c0c0c0"/>
<rect x="100" y="617" width="1" height="25" fill="#c0c0c0"/>
<rect x="108" y="617" width="1" height="25" fill="#c0c0c0"/>
<rect x="116" y="616" width="1" height="26" fill="#c0c0c0"/>
<rect x="124" y="610" width="1" height="32" fill="#c0c0c0"/>
<rect x="132" y="606" width="1" height="36" fill="#c0c0c0"/>
<rect x="140" y="605" width="1" height="37" fill="#c0c0c0"/>
<rect x="148" y="604" width="1" height="38" fill="#c0c0c0"/>
<rect x="156" y="601" width="1" height="41" fill="#c0c0c0"/>
<rect x="164" y="599" width="1" height="43" fill="#c0c0c0"/>
<rect x="172" y="599" width="1" height="43" fill="#c0c0c0"/>
<rect x="180" y="599" width="1" height="43" fill="#c0c0c0"/>
<rect x="188" y="600" width="1" height="42" fill="#c0c0c0"/>
<rect x="196" y="605" width="1" height="37" fill="#c0c0c0"/>
<rect x="204" y="610" width="1" height="32" fill="#c0c0c0"/>
<rect x="212" y="616" width="1" height="26" fill="#c0c0c0"/>
<rect x="220" y="620" width="1" height="22" fill="#c0c0c0"/>
<rect x="228" y="623" width="1" height="19" fill="#c0c0c0"/>
<rect x="236" y="627" width="1" height="15" fill="#c0c0c0"/>
<rect x="244" y="631" width="1" height="11" fill="#c0c0c0"/>
<rect x="252" y="630" width="1" height="12" fill="#c0c0c0"/>
<rect x="260" y="629" width="1" height="13" fill="#c0c0c0"/>
<rect x="268" y="628" width="1" height="14" fill="#c0c0c0"/>
<rect x="276" y="630" width="1" height="12" fill="#c0c0c0"/>
<rect x="284" y="633" width="1" height="9" fill="#c0c0c0"/>
<rect x="292" y="638" width="1" height="4" fill="#c0c0c0"/>
<rect x="300" y="640" width="1" height="2" fill="#c0c0c0"/>
<rect x="308" y="640" width="1" height="2" fill="#c0c0c0"/>
<rect x="316" y="637" width="1" height="5" fill="#c0c0c0"/>
<rect x="324" y="634" width="1" height="8" fill="#c0c0c0"/>
<rect x="332" y="631" width="1" height="11" fill="#c0c0c0"/>
<rect x="340" y="630" width="1" height="12" fill="#c0c0c0"/>
<rect x="348" y="628" width="1" height="14" fill="#c0c0c0"/>
<rect x="356" y="631" width="1" height="11" fill="#c0c0c0"/>
<rect x="364" y="631" width="1" height="11" fill="#c0c0c0"/>
<rect x="372" y="632" width="1" height="10" fill="#c0c0c0"/>
<rect x="380" y="631" width="1" height="11" fill="#c0c0c0"/>
<rect x="388" y="619" width="1" height="23" fill="#c0c0c0"/>
<rect x="396" y="611" width="1" height="31" fill="#c0c0c0"/>
<rect x="404" y="602" width="1" height="40" fill="#c0c0c0"/>
<rect x="412" y="600" width="1" height="42" fill="#c0c0c0"/>
<rect x="420" y="597" width="1" height="45" fill="#c0c0c0"/>
<rect x="428" y="596" width="1" height="46" fill="#c0c0c0"/>
<rect x="436" y="593" width="1" height="49" fill="#c0c0c0"/>
<rect x="444" y="593" width="1" height="49" fill="#c0c0c0"/>
<rect x="452" y="593" width="1" height="49" fill="#c0c0c0"/>
<rect x="460" y="594" width="1" height="48" fill="#c0c0c0"/>
<rect x="468" y="602" width="1" height="40" fill="#c0c0c0"/>
<rect x="476" y="610" width="1" height="32" fill="#c0c0c0"/>
<rect x="484" y="632" width="1" height="10" fill="#c0c0c0"/>
<rect x="492" y="641" width="1" height="2" fill="#c0c0c0"/>
<rect x="500" y="641" width="1" height="14" fill="#c0c0c0"/>
<rect x="508" y="641" width="1" height="20" fill="#c0c0c0"/>
<rect x="516" y="641" width="1" height="25" fill="#c0c0c0"/>
<rect x="524" y="641" width="1" height="31" fill="#c0c0c0"/>
<rect x="532" y="641" width="1" height="43" fill="#c0c0c0"/>
<rect x="540" y="641" width="1" height="51" fill="#c0c0c0"/>
<rect x="548" y="641" width="1" height="58" fill="#c0c0c0"/>
<rect x="556" y="641" width="1" height="64" fill="#c0c0c0"/>
<rect x="564" y="641" width="1" height="67" fill="#c0c0c0"/>
<rect x="572" y="641" width="1" height="70" fill="#c0c0c0"/>
<rect x="580" y="641" width="1" height="70" fill="#c0c0c0"/>
<rect x="588" y="641" width="1" height="67" fill="#c0c0c0"/>
<rect x="596" y="641" width="1" height="76" fill="#c0c0c0"/>
<rect x="604" y="641" width="1" height="81" fill="#c0c0c0"/>
<rect x="612" y="641" width="1" height="84" fill="#c0c0c0"/>
<rect x="620" y="641" width="1" height="79" fill="#c0c0c0"/>
<rect x="628" y="641" width="1" height="77" fill="#c0c0c0"/>
<rect x="636" y="641" width="1" height="73" fill="#c0c0c0"/>
<rect x="644" y="641" width="1" height="74" fill="#c0c0c0"/>
<rect x="652" y="641" width="1" height="65" fill="#c0c0c0"/>
<rect x="660" y="641" width="1" height="57" fill="#c0c0c0"/>
<rect x="668" y="641" width="1" height="49" fill="#c0c0c0"/>
<rect x="676" y="641" width="1" height="33" fill="#c0c0c0"/>
<rect x="684" y="641" width="1" height="22" fill="#c0c0c0"/>
<rect x="692" y="641" width="1" height="11" fill="#c0c0c0"/>
<rect x="700" y="641" width="1" height="6" fill="#c0c0c0"/>
<rect x="708" y="641" width="1" height="1" fill="#c0c0c0"/>
<rect x="716" y="641" width="1" height="1" fill="#c0c0c0"/>
<rect x="724" y="641" width="1" height="1" fill="#c0c0c0"/>
<rect x="732" y="641" width="1" height="1" fill="#c0c0c0"/>
<rect x="740" y="640" width="1" height="2" fill="#c0c0c0"/>
<rect x="748" y="641" width="1" height="2" fill="#c0c0c0"/>
<rect x="756" y="641" width="1" height="10" fill="#c0c0c0"/>
<rect x="764" y="641" width="1" height="17" fill="#c0c0c0"/>
<rect x="772" y="641" width="1" height="32" fill="#c0c0c0"/>
<rect x="780" y="641" width="1" height="34" fill="#c0c0c0"/>
<rect x="788" y="641" width="1" height="38" fill="#c0c0c0"/>
<rect x="796" y="641" width="1" height="40" fill="#c0c0c0"/>
<rect x="804" y="641" width="1" height="40" fill="#c0c0c0"/>
<rect x="812" y="641" width="1" height="36" fill="#c0c0c0"/>
<rect x="820" y="641" width="1" height="32" fill="#c0c0c0"/>
<rect x="828" y="641" width="1" height="29" fill="#c0c0c0"/>
<rect x="836" y="641" width="1" height="25" fill="#c0c0c0"/>
<rect x="844" y="641" width="1" height="21" fill="#c0c0c0"/>
<rect x="852" y="641" width="1" height="18" fill="#c0c0c0"/>
<rect x="860" y="641" width="1" height="14" fill="#c0c0c0"/>
<rect x="868" y="641" width="1" height="9" fill="#c0c0c0"/>
<rect x="876" y="641" width="1" height="19" fill="#c0c0c0"/>
<rect x="884" y="641" width="1" height="28" fill="#c0c0c0"/>
<rect x="892" y="641" width="1" height="35" fill="#c0c0c0"/>
<rect x="900" y="641" width="1" height="41" fill="#c0c0c0"/>
<rect x="908" y="641" width="1" height="51" fill="#c0c0c0"/>
<rect x="916" y="641" width="1" height="66" fill="#c0c0c0"/>
<rect x="924" y="641" width="1" height="71" fill="#c0c0c0"/>
<rect x="932" y="641" width="1" height="71" fill="#c0c0c0"/>
<rect x="940" y="641" width="1" height="74" fill="#c0c0c0"/>
<rect x="948" y="641" width="1" height="78" fill="#c0c0c0"/>
<rect x="956" y="641" width="1" height="90" fill="#c0c0c0"/>
<rect x="964" y="641" width="1" height="86" fill="#c0c0c0"/>
<rect x="972" y="641" width="1" height="82" fill="#c0c0c0"/>
<rect x="980" y="641" width="1" height="75" fill="#c0c0c0"/>
<rect x="988" y="641" width="1" height="67" fill="#c0c0c0"/>
<rect x="996" y="641" width="1" height="70" fill="#c0c0c0"/>
<rect x="1004" y="641" width="1" height="82" fill="#c0c0c0"/>
<rect x="1012" y="641" width="1" height="88" fill="#c0c0c0"/>
<rect x="1020" y="641" width="1" height="80" fill="#c0c0c0"/>
<rect x="1028" y="641" width="1" height="80" fill="#c0c0c0"/>
<rect x="1036" y="641" width="1" height="77" fill="#c0c0c0"/>
<rect x="1044" y="641" width="1" height="83" fill="#c0c0c0"/>
<rect x="1052" y="641" width="1" height="88" fill="#c0c0c0"/>
<rect x="1060" y="641" width="1" height="83" fill="#c0c0c0"/>
<rect x="1068" y="641" width="1" height="84" fill="#c0c0c0"/>
<rect x="1076" y="641" width="1" height="90" fill="#c0c0c0"/>
<rect x="1084" y="641" width="1" height="98" fill="#c0c0c0"/>
<rect x="1092" y="641" width="1" height="95" fill="#c0c0c0"/>
<rect x="1100" y="641" width="1" height="84" fill="#c0c0c0"/>
<rect x="1108" y="641" width="1" height="86" fill="#c0c0c0"/>
<rect x="1116" y="641" width="1" height="87" fill="#c0c0c0"/>
<rect x="1124" y="641" width="1" height="93" fill="#c0c0c0"/>
<rect x="1132" y="641" width="1" height="85" fill="#c0c0c0"/>
<rect x="1140" y="641" width="1" height="79" fill="#c0c0c0"/>
<rect x="1148" y="641" width="1" height="76" fill="#c0c0c0"/>
<rect x="1156" y="641" width="1" height="74" fill="#c0c0c0"/>
<rect x="1164" y="641" width="1" height="63" fill="#c0c0c0"/>
<rect x="1172" y="641" width="1" height="55" fill="#c0c0c0"/>
<rect x="1180" y="641" width="1" height="50" fill="#c0c0c0"/>
<rect x="1188" y="641" width="1" height="56" fill="#c0c0c0"/>
<rect x="1196" y="641" width="1" height="52" fill="#c0c0c0"/>
<rect x="1204" y="641" width="1" height="78" fill="#c0c0c0"/>
<rect x="1212" y="641" width="1" height="88" fill="#c0c0c0"/>
<rect x="1220" y="641" width="1" height="87" fill="#c0c0c0"/>
<rect x="1228" y="641" width="1" height="95" fill="#c0c0c0"/>
<rect x="1236" y="641" width="1" height="96" fill="#c0c0c0"/>
<rect x="1244" y="641" width="1" height="99" fill="#c0c0c0"/>
<rect x="1252" y="641" width="1" height="95" fill="#c0c0c0"/>
<rect x="1260" y="641" width="1" height="98" fill="#c0c0c0"/>
<rect x="1268" y="641" width="1" height="104" fill="#c0c0c0"/>
<rect x="1276" y="641" width="1" height="99" fill="#c0c0c0"/>
<rect x="1284" y="641" width="1" height="96" fill="#c0c0c0"/>
<rect x="1292" y="641" width="1" height="88" fill="#c0c0c0"/>
<rect x="1300" y="641" width="1" height="65" fill="#c0c0c0"/>
<rect x="1308" y="641" width="1" height="53" fill="#c0c0c0"/>
<rect x="1316" y="641" width="1" height="41" fill="#c0c0c0"/>
<rect x="1324" y="641" width="1" height="27" fill="#c0c0c0"/>
<rect x="1332" y="641" width="1" height="12" fill="#c0c0c0"/>
<rect x="1340" y="641" width="1" height="1" fill="#c0c0c0"/>
<rect x="1348" y="635" width="1" height="7" fill="#c0c0c0"/>
<rect x="1356" y="632" width="1" height="10" fill="#c0c0c0"/>
<rect x="1364" y="629" width="1" height="13" fill="#c0c0c0"/>
<rect x="1372" y="628" width="1" height="14" fill="#c0c0c0"/>
<rect x="1380" y="624" width="1" height="18" fill="#c0c0c0"/>
<polyline fill="none" stroke="#ff0000" stroke-width="1" stroke-dasharray="3,3" points="0.0,636.6 12.0,631.2 20.0,627.8 28.0,626.2 36.0,621.2 44.0,617.1 52.0,614.1 60.0,612.5 68.0,610.1 76.0,608.5 84.0,608.5 100.0,608.5 108.0,610.1 116.0,611.5 140.5,611.1 150.5,610.1 158.6,608.1 168.6,606.5 176.6,603.7 188.7,602.1 206.7,601.5 214.8,603.7 226.8,606.1 236.9,610.1 248.9,615.1 260.9,620.2 273.0,624.6 285.0,627.2 297.1,630.6 313.1,633.2 333.2,633.2 340.0,635.2 348.0,633.6 372.1,632.6 380.1,630.6 396.2,626.8 408.2,621.2 420.3,616.1 434.3,609.7 444.4,603.7 454.4,599.1 464.5,597.1 476.5,597.5 488.5,602.5 500.6,612.1 512.6,624.2 524.7,637.2 536.7,651.3 546.7,665.3 556.8,675.8 566.8,684.4 576.9,691.4 586.9,698.4 596.9,704.5 609.0,710.5 621.0,714.5 631.0,716.1 643.1,717.1 653.1,716.1 663.2,715.1 671.2,710.5 680.0,704.5 683.0,701.8 696.1,688.4 708.1,676.4 720.1,664.7 732.2,655.3 742.2,648.3 750.3,645.2 758.3,644.6 768.3,646.6 780.4,652.3 792.4,658.3 804.4,665.3 816.5,671.3 826.5,674.3 834.6,675.3 844.6,674.3 856.6,671.3 866.7,666.7 876.7,664.3 888.8,663.7 900.8,664.3 910.8,668.3 920.9,675.3 930.9,683.4 940.9,692.8 951.0,700.4 961.0,708.5 971.0,714.5 981.1,718.5 1001.2,719.1 1020.0,721.5 1036.1,719.5 1046.1,719.9 1054.1,722.5 1068.2,724.5 1080.2,725.5 1090.3,728.1 1104.3,728.5 1116.3,730.5 1140.4,730.5 1150.5,727.5 1160.5,724.1 1172.5,719.5 1184.6,712.5 1196.6,707.5 1204.7,706.1 1216.7,708.1 1228.8,710.1 1240.8,717.5 1252.8,724.1 1264.9,732.6 1276.9,737.6 1291.0,738.2 1301.0,733.6 1311.0,726.5 1321.1,719.5 1327.1,714.5 1335.1,702.4 1343.2,690.4 1349.5,680.3 1355.9,671.8 1363.3,660.7 1369.7,653.8 1377.1,647.4 1380.5,644.5"/>
</g>
<g shape-rendering="crispEdges">
<line x1="1" y1="791.5" x2="1647" y2="791.5" stroke="#c0c0c0" stroke-width="1" stroke-dasharray="3,3"/>
<line x1="1" y1="842.5" x2="1647" y2="842.5" stroke="#c0c0c0" stroke-width="1" stroke-dasharray="3,3"/>
<line x1="1" y1="903.5" x2="1647" y2="903.5" stroke="#c0c0c0" stroke-width="1" stroke-dasharray="3,3"/>
<polyline fill="none" stroke="#1e90ff" stroke-width="1" points="0.0,829.7 4.5,830.7 12.5,825.7 20.5,824.3 28.5,818.6 36.5,817.2 44.5,824.3 52.5,824.3 60.5,831.3 68.5,831.3 76.5,828.3 84.5,836.3 92.5,827.3 100.5,841.7 108.5,832.3 116.5,828.3 124.5,816.2 132.5,817.6 140.5,822.3 148.5,820.2 156.5,816.6 164.5,815.2 172.5,823.3 180.5,819.2 188.5,822.7 196.5,839.3 204.5,838.3 212.5,846.3 220.5,842.7 228.5,839.3 236.5,848.3 244.5,848.3 252.5,833.3 260.5,832.3 268.5,830.3 276.5,842.9 284.5,847.3 292.5,852.4 300.5,848.3 308.5,842.3 316.5,829.7 324.5,826.3 332.5,832.3 340.5,829.9 348.5,827.3 356.5,844.3 364.5,839.3 372.5,844.3 380.5,823.3 388.5,812.2 396.5,811.2 404.5,806.2 412.5,822.3 420.5,818.2 428.5,820.6 436.5,816.2 444.5,820.6 452.5,819.2 460.5,819.2 468.5,843.3 476.5,848.3 484.5,875.4 492.5,863.0 500.5,865.4 508.5,859.4 516.5,860.4 524.5,862.0 532.5,875.4 540.5,872.4 548.5,874.4 556.5,876.4 564.5,872.4 572.5,874.4 580.5,870.4 588.5,863.4 596.5,880.5 604.5,879.5 612.5,877.5 620.5,859.8 628.5,864.4 636.5,861.4 644.5,868.0 652.5,847.3 660.5,847.3 668.5,845.3 676.5,828.3 684.5,833.3 692.5,828.3 700.5,837.7 708.5,836.3 716.5,838.3 724.5,847.3 732.5,841.3 740.5,838.3 748.5,850.4 756.5,858.0 764.5,859.4 772.5,872.4 780.5,854.4 788.5,857.4 796.5,856.4 804.5,853.4 812.5,848.9 820.5,847.3 828.5,844.3 836.5,844.3 844.5,843.3 852.5,843.3 860.5,839.3 868.5,837.3 876.5,865.4 884.5,867.4 892.5,869.4 900.5,869.4 908.5,879.5 916.5,886.5 924.5,872.4 932.5,863.4 940.5,868.0 948.5,872.0 956.5,883.5 964.5,857.4 972.5,857.4 980.5,851.4 988.5,849.3 996.5,862.4 1004.5,872.4 1012.5,870.4 1020.5,851.4 1028.5,857.4 1036.5,858.4 1044.5,864.4 1052.5,866.4 1060.5,855.4 1068.5,862.0 1076.5,866.0 1084.5,870.4 1092.5,859.4 1100.5,847.3 1108.5,860.4 1116.5,858.4 1124.5,864.4 1132.5,850.4 1140.5,851.4 1148.5,854.4 1156.5,855.4 1164.5,844.3 1172.5,844.3 1180.5,847.9 1188.5,859.4 1196.5,848.3 1204.5,872.4 1212.5,862.4 1220.5,853.4 1228.5,860.8 1236.5,857.4 1244.5,858.4 1252.5,853.4 1260.5,859.4 1268.5,862.4 1276.5,853.4 1284.5,855.4 1292.5,849.3 1300.5,835.0 1308.5,839.8 1316.5,839.5 1324.5,835.5 1332.5,831.7 1340.5,830.3 1348.5,837.7 1356.5,838.0 1364.5,837.0 1372.5,836.5 1380.5,835.7"/>
</g>
<g stroke="#ff0000" fill="#ff0000" stroke-linecap="round" stroke-linejoin="round" shape-rendering="crispEdges">
<line x1="1310" y1="674" x2="1378" y2="622" stroke-width="3.4"/>
<polygon points="1386,617 1373,620 1380,628" stroke-width="1"/>
<polyline fill="none" points="1327,640 1322,649 1332,645" stroke-width="3"/>
<line x1="1298" y1="841" x2="1372" y2="838" stroke-width="3.4"/>
<polygon points="1382,837 1370,833 1371,843" stroke-width="1"/>
</g>
<g shape-rendering="crispEdges">
<rect x="1648" y="50" width="2" height="1" fill="#000"/>
<rect x="1648" y="83" width="2" height="1" fill="#000"/>
<rect x="1648" y="116" width="2" height="1" fill="#000"/>
<rect x="1648" y="149" width="2" height="1" fill="#000"/>
<rect x="1648" y="182" width="2" height="1" fill="#000"/>
<rect x="1648" y="215" width="2" height="1" fill="#000"/>
<rect x="1648" y="248" width="2" height="1" fill="#000"/>
<rect x="1648" y="281" width="2" height="1" fill="#000"/>
<rect x="1648" y="314" width="2" height="1" fill="#000"/>
<rect x="1648" y="347" width="2" height="1" fill="#000"/>
<rect x="1648" y="380" width="2" height="1" fill="#000"/>
<rect x="1648" y="479" width="2" height="1" fill="#000"/>
<rect x="1648" y="512" width="2" height="1" fill="#000"/>
<rect x="1648" y="545" width="2" height="1" fill="#000"/>
<rect x="1648" y="578" width="2" height="1" fill="#000"/>
<rect x="1648" y="585" width="1" height="1" fill="#000"/>
<rect x="1648" y="641" width="1" height="1" fill="#000"/>
<rect x="1648" y="751" width="1" height="1" fill="#000"/>
<rect x="1648" y="757" width="1" height="1" fill="#000"/>
<rect x="1648" y="791" width="1" height="1" fill="#000"/>
<rect x="1648" y="842" width="1" height="1" fill="#000"/>
<rect x="1648" y="903" width="1" height="1" fill="#000"/>
<rect x="1648" y="927" width="1" height="1" fill="#000"/>
<rect x="52" y="930" width="1" height="3" fill="#000"/>
<rect x="116" y="930" width="1" height="3" fill="#000"/>
<rect x="180" y="930" width="1" height="3" fill="#000"/>
<rect x="244" y="930" width="1" height="3" fill="#000"/>
<rect x="308" y="930" width="1" height="3" fill="#000"/>
<rect x="372" y="930" width="1" height="3" fill="#000"/>
<rect x="436" y="930" width="1" height="3" fill="#000"/>
<rect x="500" y="930" width="1" height="3" fill="#000"/>
<rect x="564" y="930" width="1" height="3" fill="#000"/>
<rect x="628" y="930" width="1" height="3" fill="#000"/>
<rect x="692" y="930" width="1" height="3" fill="#000"/>
<rect x="756" y="930" width="1" height="3" fill="#000"/>
<rect x="820" y="930" width="1" height="3" fill="#000"/>
<rect x="884" y="930" width="1" height="3" fill="#000"/>
<rect x="948" y="930" width="1" height="3" fill="#000"/>
<rect x="1012" y="930" width="1" height="3" fill="#000"/>
<rect x="1076" y="930" width="1" height="3" fill="#000"/>
<rect x="1140" y="930" width="1" height="3" fill="#000"/>
<rect x="1204" y="930" width="1" height="3" fill="#000"/>
<rect x="1268" y="930" width="1" height="3" fill="#000"/>
<rect x="1332" y="930" width="1" height="3" fill="#000"/>
</g>
<text x="1652.5" y="54" font-size="10" fill="#000" textLength="34" lengthAdjust="spacingAndGlyphs" stroke="#000" stroke-width="0.22" >29392.5</text>
<text x="1652.5" y="87" font-size="10" fill="#000" textLength="34" lengthAdjust="spacingAndGlyphs" stroke="#000" stroke-width="0.22" >29178.0</text>
<text x="1652.5" y="120" font-size="10" fill="#000" textLength="34" lengthAdjust="spacingAndGlyphs" stroke="#000" stroke-width="0.22" >28963.5</text>
<text x="1652.5" y="153" font-size="10" fill="#000" textLength="34" lengthAdjust="spacingAndGlyphs" stroke="#000" stroke-width="0.22" >28749.0</text>
<text x="1652.5" y="186" font-size="10" fill="#000" textLength="34" lengthAdjust="spacingAndGlyphs" stroke="#000" stroke-width="0.22" >28534.5</text>
<text x="1652.5" y="219" font-size="10" fill="#000" textLength="34" lengthAdjust="spacingAndGlyphs" stroke="#000" stroke-width="0.22" >28313.5</text>
<text x="1652.5" y="252" font-size="10" fill="#000" textLength="34" lengthAdjust="spacingAndGlyphs" stroke="#000" stroke-width="0.22" >28099.0</text>
<text x="1652.5" y="285" font-size="10" fill="#000" textLength="34" lengthAdjust="spacingAndGlyphs" stroke="#000" stroke-width="0.22" >27884.5</text>
<text x="1652.5" y="318" font-size="10" fill="#000" textLength="34" lengthAdjust="spacingAndGlyphs" stroke="#000" stroke-width="0.22" >27670.0</text>
<text x="1652.5" y="351" font-size="10" fill="#000" textLength="34" lengthAdjust="spacingAndGlyphs" stroke="#000" stroke-width="0.22" >27455.5</text>
<text x="1652.5" y="384" font-size="10" fill="#000" textLength="34" lengthAdjust="spacingAndGlyphs" stroke="#000" stroke-width="0.22" >27241.0</text>
<text x="1652.5" y="483" font-size="10" fill="#000" textLength="34" lengthAdjust="spacingAndGlyphs" stroke="#000" stroke-width="0.22" >26591.0</text>
<text x="1652.5" y="516" font-size="10" fill="#000" textLength="34" lengthAdjust="spacingAndGlyphs" stroke="#000" stroke-width="0.22" >26376.5</text>
<text x="1652.5" y="549" font-size="10" fill="#000" textLength="34" lengthAdjust="spacingAndGlyphs" stroke="#000" stroke-width="0.22" >26162.0</text>
<text x="1652.5" y="582" font-size="10" fill="#000" textLength="34" lengthAdjust="spacingAndGlyphs" stroke="#000" stroke-width="0.22" >25947.5</text>
<g shape-rendering="crispEdges">
<rect x="1649" y="333" width="41" height="11" fill="#ff0000"/>
<rect x="1649" y="363" width="41" height="11" fill="#ff0000"/>
<rect x="1649" y="392" width="41" height="11" fill="#000000"/>
<rect x="1649" y="410" width="41" height="11" fill="#32cd32"/>
<rect x="1649" y="442" width="41" height="11" fill="#0000ff"/>
<rect x="1649" y="467" width="41" height="11" fill="#0000ff"/>
</g>
<text x="1652.5" y="342" font-size="10" fill="#fff" textLength="34" lengthAdjust="spacingAndGlyphs" stroke="#fff" stroke-width="0.22" >27506.3</text>
<text x="1652.5" y="372" font-size="10" fill="#fff" textLength="34" lengthAdjust="spacingAndGlyphs" stroke="#fff" stroke-width="0.22" >27310.6</text>
<text x="1652.5" y="401" font-size="10" fill="#fff" textLength="34" lengthAdjust="spacingAndGlyphs" stroke="#fff" stroke-width="0.22" >27125.0</text>
<text x="1652.5" y="419" font-size="10" fill="#fff" textLength="34" lengthAdjust="spacingAndGlyphs" stroke="#fff" stroke-width="0.22" >27004.1</text>
<text x="1652.5" y="451" font-size="10" fill="#fff" textLength="34" lengthAdjust="spacingAndGlyphs" stroke="#fff" stroke-width="0.22" >26801.9</text>
<text x="1652.5" y="476" font-size="10" fill="#fff" textLength="34" lengthAdjust="spacingAndGlyphs" stroke="#fff" stroke-width="0.22" >26638.9</text>
<text x="1651" y="594" font-size="10" fill="#000" textLength="28" lengthAdjust="spacingAndGlyphs" stroke="#000" stroke-width="0.22" >136.17</text>
<text x="1651" y="645" font-size="10" fill="#000" textLength="18" lengthAdjust="spacingAndGlyphs" stroke="#000" stroke-width="0.22" >0.00</text>
<text x="1651" y="750" font-size="10" fill="#000" textLength="32" lengthAdjust="spacingAndGlyphs" stroke="#000" stroke-width="0.22" >-269.32</text>
<text x="1651" y="766" font-size="10" fill="#000" textLength="15" lengthAdjust="spacingAndGlyphs" stroke="#000" stroke-width="0.22" >100</text>
<text x="1651" y="795" font-size="10" fill="#000" textLength="10" lengthAdjust="spacingAndGlyphs" stroke="#000" stroke-width="0.22" >80</text>
<text x="1651" y="846" font-size="10" fill="#000" textLength="10" lengthAdjust="spacingAndGlyphs" stroke="#000" stroke-width="0.22" >50</text>
<text x="1651" y="907" font-size="10" fill="#000" textLength="10" lengthAdjust="spacingAndGlyphs" stroke="#000" stroke-width="0.22" >15</text>
<text x="1651" y="926" font-size="10" fill="#000" textLength="5" lengthAdjust="spacingAndGlyphs" stroke="#000" stroke-width="0.22" >0</text>
<text x="-13" y="942" font-size="10" fill="#000" textLength="51" lengthAdjust="spacingAndGlyphs" stroke="#000" stroke-width="0.22" >22 Dec 2021</text>
<text x="51" y="942" font-size="10" fill="#000" textLength="54.3" lengthAdjust="spacingAndGlyphs" stroke="#000" stroke-width="0.22" >24 Dec 00:00</text>
<text x="115" y="942" font-size="10" fill="#000" textLength="54.3" lengthAdjust="spacingAndGlyphs" stroke="#000" stroke-width="0.22" >27 Dec 10:55</text>
<text x="179" y="942" font-size="10" fill="#000" textLength="54.3" lengthAdjust="spacingAndGlyphs" stroke="#000" stroke-width="0.22" >28 Dec 18:55</text>
<text x="243" y="942" font-size="10" fill="#000" textLength="54.3" lengthAdjust="spacingAndGlyphs" stroke="#000" stroke-width="0.22" >30 Dec 00:00</text>
<text x="307" y="942" font-size="10" fill="#000" textLength="54.3" lengthAdjust="spacingAndGlyphs" stroke="#000" stroke-width="0.22" >31 Dec 10:55</text>
<text x="371" y="942" font-size="10" fill="#000" textLength="47.5" lengthAdjust="spacingAndGlyphs" stroke="#000" stroke-width="0.22" >3 Jan 18:55</text>
<text x="435" y="942" font-size="10" fill="#000" textLength="47.5" lengthAdjust="spacingAndGlyphs" stroke="#000" stroke-width="0.22" >5 Jan 00:00</text>
<text x="499" y="942" font-size="10" fill="#000" textLength="47.5" lengthAdjust="spacingAndGlyphs" stroke="#000" stroke-width="0.22" >6 Jan 10:55</text>
<text x="563" y="942" font-size="10" fill="#000" textLength="47.5" lengthAdjust="spacingAndGlyphs" stroke="#000" stroke-width="0.22" >7 Jan 18:55</text>
<text x="627" y="942" font-size="10" fill="#000" textLength="53.3" lengthAdjust="spacingAndGlyphs" stroke="#000" stroke-width="0.22" >11 Jan 00:00</text>
<text x="691" y="942" font-size="10" fill="#000" textLength="53.3" lengthAdjust="spacingAndGlyphs" stroke="#000" stroke-width="0.22" >12 Jan 10:55</text>
<text x="755" y="942" font-size="10" fill="#000" textLength="53.3" lengthAdjust="spacingAndGlyphs" stroke="#000" stroke-width="0.22" >13 Jan 18:55</text>
<text x="819" y="942" font-size="10" fill="#000" textLength="53.3" lengthAdjust="spacingAndGlyphs" stroke="#000" stroke-width="0.22" >17 Jan 00:00</text>
<text x="883" y="942" font-size="10" fill="#000" textLength="53.3" lengthAdjust="spacingAndGlyphs" stroke="#000" stroke-width="0.22" >18 Jan 10:55</text>
<text x="947" y="942" font-size="10" fill="#000" textLength="53.3" lengthAdjust="spacingAndGlyphs" stroke="#000" stroke-width="0.22" >19 Jan 18:55</text>
<text x="1011" y="942" font-size="10" fill="#000" textLength="53.3" lengthAdjust="spacingAndGlyphs" stroke="#000" stroke-width="0.22" >21 Jan 00:00</text>
<text x="1075" y="942" font-size="10" fill="#000" textLength="53.3" lengthAdjust="spacingAndGlyphs" stroke="#000" stroke-width="0.22" >24 Jan 10:55</text>
<text x="1139" y="942" font-size="10" fill="#000" textLength="53.3" lengthAdjust="spacingAndGlyphs" stroke="#000" stroke-width="0.22" >25 Jan 18:55</text>
<text x="1203" y="942" font-size="10" fill="#000" textLength="53.3" lengthAdjust="spacingAndGlyphs" stroke="#000" stroke-width="0.22" >27 Jan 00:00</text>
<text x="1267" y="942" font-size="10" fill="#000" textLength="53.3" lengthAdjust="spacingAndGlyphs" stroke="#000" stroke-width="0.22" >28 Jan 10:55</text>
<text x="1331" y="942" font-size="10" fill="#000" textLength="53.3" lengthAdjust="spacingAndGlyphs" stroke="#000" stroke-width="0.22" >31 Jan 18:55</text>
<text x="3" y="40" font-size="10" fill="#000" textLength="197" lengthAdjust="spacingAndGlyphs" stroke="#000" stroke-width="0.22" >JPN225-,H4&#160; 27057.5 27127.5 27007.5 27125.0</text>
<text x="-8" y="596" font-size="10" fill="#000" textLength="118" lengthAdjust="spacingAndGlyphs" stroke="#000" stroke-width="0.22" >MACD(12,26,9) 41.82 -4.37</text>
<text x="-7" y="768" font-size="10" fill="#000" textLength="67" lengthAdjust="spacingAndGlyphs" stroke="#000" stroke-width="0.22" >RSI(14) 54.0603</text>
<defs><linearGradient id="g1" x1="0" y1="0" x2="0" y2="1"><stop offset="0" stop-color="#f85252"/><stop offset="1" stop-color="#e23232"/></linearGradient>
<linearGradient id="g2" x1="0" y1="0" x2="0" y2="1"><stop offset="0" stop-color="#dc2a2a"/><stop offset="1" stop-color="#ae0000"/></linearGradient>
<linearGradient id="g3" x1="0" y1="0" x2="0" y2="1"><stop offset="0" stop-color="#f4f4f4"/><stop offset=".5" stop-color="#e4e4e4"/><stop offset=".5" stop-color="#d4d4d4"/><stop offset="1" stop-color="#cfcfcf"/></linearGradient></defs>
<g shape-rendering="crispEdges">
<rect x="0" y="48" width="210" height="57" fill="#fff"/>
<rect x="0" y="48" width="43" height="25" fill="url(#g1)"/>
<rect x="158" y="48" width="52" height="25" fill="url(#g1)"/>
<rect x="0" y="72" width="100" height="33" fill="url(#g2)"/>
<rect x="102" y="72" width="108" height="33" fill="url(#g2)"/>
<rect x="0" y="48" width="43" height="1" fill="#c81818"/><rect x="158" y="48" width="52" height="1" fill="#c81818"/>
<rect x="42" y="48" width="1" height="24" fill="#c81818"/><rect x="158" y="48" width="1" height="24" fill="#c81818"/>
<rect x="0" y="71" width="39" height="1" fill="#a40808"/><rect x="0" y="72" width="39" height="1" fill="#f87070"/>
<rect x="162" y="71" width="44" height="1" fill="#a40808"/><rect x="162" y="72" width="44" height="1" fill="#f87070"/>
<rect x="45.5" y="48.5" width="110" height="21" fill="#fff" stroke="#a3a9b3"/>
<rect x="46" y="49" width="20" height="20" fill="url(#g3)"/><rect x="66" y="49" width="1" height="20" fill="#a3a9b3"/>
<rect x="135" y="49" width="20" height="20" fill="url(#g3)"/><rect x="134" y="49" width="1" height="20" fill="#a3a9b3"/>
</g>
<path d="M52.5 57 h6 l-3 3.5 z" fill="#4464c8"/><path d="M142.5 61 h6 l-3 -3.5 z" fill="#4464c8"/>
<text x="131" y="63" font-size="12" fill="#222" text-anchor="end" >1.00</text>
<text x="3" y="64" font-size="12.5" fill="#fff" textLength="26.5" lengthAdjust="spacingAndGlyphs" >SELL</text>
<text x="171" y="64" font-size="12.5" fill="#fff" textLength="24" lengthAdjust="spacingAndGlyphs" >BUY</text>
<text x="6.5" y="100" font-size="12" fill="#fff" font-weight="bold" textLength="36" lengthAdjust="spacingAndGlyphs" >27123</text>
<text x="117" y="100" font-size="12" fill="#fff" font-weight="bold" textLength="35.5" lengthAdjust="spacingAndGlyphs" >27146</text>
<text x="42.3" y="100" font-size="42" fill="#fff" >.</text>
<text x="52.6" y="100" font-size="34" fill="#fff" textLength="17" lengthAdjust="spacingAndGlyphs" >5</text>
<text x="153.9" y="100" font-size="42" fill="#fff" >.</text>
<text x="163.6" y="100" font-size="34" fill="#fff" textLength="17" lengthAdjust="spacingAndGlyphs" >5</text>
<rect x="0" y="0" width="1694" height="24" fill="#f0f0f0"/>
<rect x="0" y="24" width="1694" height="1" fill="#a0a0a0" shape-rendering="crispEdges"/>
<rect x="0" y="25" width="1694" height="1" fill="#696969" shape-rendering="crispEdges"/>
<g shape-rendering="crispEdges">
<rect x="8" y="2" width="1" height="20" fill="#a0a0a0"/>
<rect x="392" y="2" width="1" height="20" fill="#a0a0a0"/>
<rect x="482" y="2" width="1" height="20" fill="#a0a0a0"/>
<rect x="544" y="2" width="1" height="20" fill="#a0a0a0"/>
<rect x="732" y="2" width="1" height="20" fill="#a0a0a0"/>
<rect x="297" y="0" width="1" height="24" fill="#a0a0a0"/>
<rect x="298" y="0" width="1" height="24" fill="#ffffff"/>
<rect x="665" y="0" width="1" height="24" fill="#a0a0a0"/>
<rect x="666" y="0" width="1" height="24" fill="#ffffff"/>
<rect x="971" y="0" width="1" height="24" fill="#a0a0a0"/>
<rect x="972" y="0" width="1" height="24" fill="#ffffff"/>
<rect x="1232" y="0" width="1" height="24" fill="#a0a0a0"/>
<rect x="1233" y="0" width="1" height="24" fill="#ffffff"/>
<rect x="301" y="2" width="3" height="1" fill="#b0b0b0"/>
<rect x="301" y="4" width="3" height="1" fill="#b0b0b0"/>
<rect x="301" y="6" width="3" height="1" fill="#b0b0b0"/>
<rect x="301" y="8" width="3" height="1" fill="#b0b0b0"/>
<rect x="301" y="10" width="3" height="1" fill="#b0b0b0"/>
<rect x="301" y="12" width="3" height="1" fill="#b0b0b0"/>
<rect x="301" y="14" width="3" height="1" fill="#b0b0b0"/>
<rect x="301" y="16" width="3" height="1" fill="#b0b0b0"/>
<rect x="301" y="18" width="3" height="1" fill="#b0b0b0"/>
<rect x="301" y="20" width="3" height="1" fill="#b0b0b0"/>
<rect x="669" y="2" width="3" height="1" fill="#b0b0b0"/>
<rect x="669" y="4" width="3" height="1" fill="#b0b0b0"/>
<rect x="669" y="6" width="3" height="1" fill="#b0b0b0"/>
<rect x="669" y="8" width="3" height="1" fill="#b0b0b0"/>
<rect x="669" y="10" width="3" height="1" fill="#b0b0b0"/>
<rect x="669" y="12" width="3" height="1" fill="#b0b0b0"/>
<rect x="669" y="14" width="3" height="1" fill="#b0b0b0"/>
<rect x="669" y="16" width="3" height="1" fill="#b0b0b0"/>
<rect x="669" y="18" width="3" height="1" fill="#b0b0b0"/>
<rect x="669" y="20" width="3" height="1" fill="#b0b0b0"/>
<rect x="975" y="2" width="3" height="1" fill="#b0b0b0"/>
<rect x="975" y="4" width="3" height="1" fill="#b0b0b0"/>
<rect x="975" y="6" width="3" height="1" fill="#b0b0b0"/>
<rect x="975" y="8" width="3" height="1" fill="#b0b0b0"/>
<rect x="975" y="10" width="3" height="1" fill="#b0b0b0"/>
<rect x="975" y="12" width="3" height="1" fill="#b0b0b0"/>
<rect x="975" y="14" width="3" height="1" fill="#b0b0b0"/>
<rect x="975" y="16" width="3" height="1" fill="#b0b0b0"/>
<rect x="975" y="18" width="3" height="1" fill="#b0b0b0"/>
<rect x="975" y="20" width="3" height="1" fill="#b0b0b0"/>
<rect x="335" y="0" width="25" height="22" fill="#f9f9f9"/>
<rect x="335" y="0" width="25" height="1" fill="#a0a0a0"/>
<rect x="335" y="0" width="1" height="22" fill="#a0a0a0"/>
<rect x="487" y="0" width="25" height="22" fill="#f9f9f9"/>
<rect x="487" y="0" width="25" height="1" fill="#a0a0a0"/>
<rect x="487" y="0" width="1" height="22" fill="#a0a0a0"/>
<rect x="515" y="0" width="25" height="22" fill="#f9f9f9"/>
<rect x="515" y="0" width="25" height="1" fill="#a0a0a0"/>
<rect x="515" y="0" width="1" height="22" fill="#a0a0a0"/>
<rect x="675" y="0" width="25" height="22" fill="#f9f9f9"/>
<rect x="675" y="0" width="25" height="1" fill="#a0a0a0"/>
<rect x="675" y="0" width="1" height="22" fill="#a0a0a0"/>
<rect x="1121" y="0" width="25" height="22" fill="#f9f9f9"/>
<rect x="1121" y="0" width="25" height="1" fill="#a0a0a0"/>
<rect x="1121" y="0" width="1" height="22" fill="#a0a0a0"/>
</g>
<path d="M3.5 12 L5 13.5 L3.5 15 L2 13.5 Z" fill="#fff" stroke="#222" stroke-width="0.9"/>
<rect x="0" y="19" width="1" height="2" fill="#e0a020"/>
<g><path d="M18.5 4.5 h8 l3.5 3.5 v9.5 h-11.5 z" fill="#fafafa" stroke="#8a8a8a"/><path d="M26.5 4.5 v3.5 h3.5" fill="none" stroke="#8a8a8a"/>
<rect x="20" y="6" width="3" height="2" fill="#999"/><rect x="20" y="10" width="6" height="1" fill="#aaa"/><rect x="20" y="12" width="5" height="1" fill="#aaa"/>
<path d="M26 10.5 h4 v4 h4 v4 h-4 v4 h-4 v-4 h-4 v-4 h4 z" fill="#22c32a" stroke="#0a7d12" stroke-width="1"/></g>
<text x="38" y="15" font-size="12" fill="#000" textLength="63.5" lengthAdjust="spacingAndGlyphs" >New Order</text>
<defs><linearGradient id="gk" x1="0" y1="0" x2="1" y2="1"><stop offset="0" stop-color="#fbe36a"/><stop offset=".5" stop-color="#e9b52e"/><stop offset="1" stop-color="#b87a10"/></linearGradient>
<linearGradient id="gc" x1="0" y1="0" x2="0" y2="1"><stop offset="0" stop-color="#ffffff"/><stop offset="1" stop-color="#c4d2ea"/></linearGradient>
<linearGradient id="gs" x1="0" y1="0" x2="1" y2="0"><stop offset="0" stop-color="#3a6fe0"/><stop offset=".5" stop-color="#6f9fd8"/><stop offset="1" stop-color="#4fa04f"/></linearGradient></defs>
<path d="M119.4 5.2 L129.8 12.6 L129.8 14.2 L122 19.6 L114.2 14.6 L114.6 13.2 Z" fill="url(#gk)" stroke="#a8700c" stroke-width="1"/><path d="M115 14.6 L122 18.2 L129.4 13.4" fill="none" stroke="#fff2b8" stroke-width="0.9"/>
<path d="M144.5 5 l3 -1 h7.5 v9 h-10.5 z" fill="#1e8cf0" stroke="#1668c8" stroke-width="0.8"/><path d="M144.5 5 l3 1.2 v7 M147.5 6.2 h7.5" fill="none" stroke="#9fd4ff" stroke-width="0.9"/><rect x="149.5" y="8" width="4" height="1.6" fill="#d8efff"/>
<path d="M145.3 19.5 a2.9 2.9 0 0 1 -.3 -5.6 a3.3 3.3 0 0 1 5.9 -1.1 a2.8 2.8 0 0 1 4 2.1 a2.4 2.4 0 0 1 -.3 4.6 z" fill="url(#gc)" stroke="#5878b0" stroke-width="1"/>
<g fill="none"><path d="M178 12 L178 20 A8 8 0 0 0 186 12 Z" fill="#7fbf7f" opacity=".55"/><circle cx="178" cy="12" r="7.4" stroke="url(#gs)" stroke-width="1.3" opacity=".75"/><circle cx="178" cy="12" r="4.8" stroke="url(#gs)" stroke-width="1.4"/><circle cx="178" cy="12" r="2" fill="#2a5fd0"/><path d="M178.5 12.5 v7.2" stroke="#22a022" stroke-width="1.5"/></g>
<path d="M198 10.5 h14.6 l-1 3 l-5.6 6 h-1.6 z" fill="#f7d84a" stroke="#c09818" stroke-width="0.9"/>
<ellipse cx="205.1" cy="8.6" rx="7.9" ry="2.6" fill="#4f9fe0" stroke="#2b76c0" stroke-width="0.8"/><path d="M201 8 q.6 -4.2 4.2 -4.2 q3.6 0 4.2 4.2 z" fill="#5aa8e6" stroke="#2b76c0" stroke-width="0.8"/>
<circle cx="209.6" cy="15.6" r="4.3" fill="#d8261c"/><circle cx="209.6" cy="15.6" r="4.3" fill="none" stroke="#b81810" stroke-width=".6"/><rect x="208" y="14" width="3.2" height="3.2" fill="#fff"/>
<text x="218" y="15" font-size="12" fill="#000" textLength="71" lengthAdjust="spacingAndGlyphs" >AutoTrading</text>
<g stroke="#555" stroke-width="1.4" fill="none"><path d="M315.5 6 V20 M313 17.5 H327"/></g>
<path d="M315.5 6.5 l-2 2.5 h4 z M328 17.5 l-2.5 -2 v4 z" fill="#555"/>
<path d="M321.5 8 v7.5 M321.5 8.5 h3 M318.5 15 h3" stroke="#1e8e2a" stroke-width="1.4" fill="none"/>
<g stroke="#555" stroke-width="1.4" fill="none"><path d="M343.5 6 V20 M341 17.5 H355"/></g>
<path d="M343.5 6.5 l-2 2.5 h4 z M356 17.5 l-2.5 -2 v4 z" fill="#555"/>
<path d="M349.5 4 v12" stroke="#1e8e2a" stroke-width="1.2"/><rect x="347.5" y="6.5" width="4" height="7" fill="#3fd24a" stroke="#1e8e2a"/>
<g stroke="#555" stroke-width="1.4" fill="none"><path d="M371.5 6 V20 M369 17.5 H383"/></g>
<path d="M371.5 6.5 l-2 2.5 h4 z M384 17.5 l-2.5 -2 v4 z" fill="#555"/>
<path d="M370 15 q6 -10 9 -5 q2 3 4 3" stroke="#2a9a38" stroke-width="1.4" fill="none"/>
<path d="M411 13.5 L415.5 18" stroke="#c9a227" stroke-width="3" stroke-linecap="round"/>
<circle cx="407" cy="9.5" r="5.6" fill="#d6e8fb" stroke="#3f7fd6" stroke-width="1.4"/>
<path d="M404 9.5 h6" stroke="#2f6fcf" stroke-width="1.8"/>
<path d="M407 6.5 v6" stroke="#2f6fcf" stroke-width="1.8"/>
<path d="M439 13.5 L443.5 18" stroke="#c9a227" stroke-width="3" stroke-linecap="round"/>
<circle cx="435" cy="9.5" r="5.6" fill="#d6e8fb" stroke="#3f7fd6" stroke-width="1.4"/>
<path d="M432 9.5 h6" stroke="#2f6fcf" stroke-width="1.8"/>
<rect x="457" y="4" width="7.5" height="7.5" fill="#3a9a1e"/>
<rect x="458.3" y="7" width="5" height="3" fill="#eef6ff" opacity=".9"/>
<rect x="465.5" y="4" width="7.5" height="7.5" fill="#2a5fd8"/>
<rect x="466.8" y="7" width="5" height="3" fill="#eef6ff" opacity=".9"/>
<rect x="457" y="12.5" width="7.5" height="7.5" fill="#2a5fd8"/>
<rect x="458.3" y="15.5" width="5" height="3" fill="#eef6ff" opacity=".9"/>
<rect x="465.5" y="12.5" width="7.5" height="7.5" fill="#3a9a1e"/>
<rect x="466.8" y="15.5" width="5" height="3" fill="#eef6ff" opacity=".9"/>
<g stroke="#555" stroke-width="1.4" fill="none"><path d="M495.5 6 V20 M493 17.5 H507"/></g>
<path d="M495.5 6.5 l-2 2.5 h4 z M508 17.5 l-2.5 -2 v4 z" fill="#555"/>
<path d="M500.5 8 v8 l4 -4 z" fill="#7fe08a" stroke="#1e8e2a" stroke-width="1.2"/>
<g stroke="#555" stroke-width="1.4" fill="none"><path d="M523.5 6 V20 M521 17.5 H535"/></g>
<path d="M523.5 6.5 l-2 2.5 h4 z M536 17.5 l-2.5 -2 v4 z" fill="#555"/>
<path d="M529.5 6 v10" stroke="#2a7ad8" stroke-width="1.4"/><path d="M535 11.5 h-4 M533 9.5 l-2.5 2 l2.5 2" stroke="#e04a1a" stroke-width="1.3" fill="none"/>
<path d="M554.5 5.5 h8 l3 3 v8.5 h-11 z" fill="#fafafa" stroke="#8a8a8a"/><path d="M557 9 v6 M557 10 h2" stroke="#aaa" fill="none"/>
<path d="M562 10.5 h4 v4 h4 v4 h-4 v4 h-4 v-4 h-4 v-4 h4 z" fill="#22c32a" stroke="#0a7d12"/>
<path d="M575.5 11 h6 l-3 3.5 z" fill="#000"/>
<path d="M614.5 11 h6 l-3 3.5 z" fill="#000"/>
<path d="M654 11 h6 l-3 3.5 z" fill="#000"/>
<path d="M959.5 11 h6 l-3 3.5 z" fill="#000"/>
<circle cx="600" cy="12" r="7.2" fill="#f4f8ff" stroke="#1f62c8" stroke-width="2.4"/><path d="M600 7.5 v5 h3.5" stroke="#333" stroke-width="1.2" fill="none"/>
<rect x="631.5" y="5.5" width="15" height="13" fill="#fff" stroke="#2f6fcf"/><rect x="632" y="6" width="14" height="2" fill="#5a96e6"/><path d="M634 11 l2 -1 l2 0 l2 -1 l2 .5 l2 -1" stroke="#b0301a" stroke-width="1.3" fill="none"/><rect x="632" y="12" width="14" height="1" fill="#2f6fcf"/><path d="M634 17 l2 -1 l2 .5 l2 -2 l2 2 l1 -.5" stroke="#1e8e2a" stroke-width="1.3" fill="none"/>
<path d="M683 5 v12 l3 -3 l2.5 5 l2 -1 l-2.5 -5 h4.5 z" fill="#555"/>
<path d="M715.5 5 v6 M715.5 14 v6 M708 12.5 h6 M717 12.5 h6" stroke="#555" stroke-width="1.2"/>
<path d="M749.5 6 v13" stroke="#555" stroke-width="1.3"/><path d="M772 12.5 h12" stroke="#555" stroke-width="1.3"/><path d="M800 19 L812 6.5" stroke="#555" stroke-width="1.3"/>
<path d="M826 14 l12 -8 M828 18 l12 -8 M830 10 l1 7 M834 8 l1 7 M838 5 l1 7" stroke="#555" stroke-width="1.1" fill="none"/>
<text x="837" y="21" font-size="7" fill="#333" font-weight="bold" >E</text>
<path d="M855 5.5 h13 M855 8.5 h13 M855 12.5 h13 M855 16.5 h9" stroke="#555" stroke-width="1" stroke-dasharray="1,1"/>
<text x="865" y="21" font-size="7" fill="#333" font-weight="bold" >F</text>
<text x="885" y="17" font-size="12" fill="#555" >A</text>
<rect x="912.5" y="6.5" width="11" height="12" fill="none" stroke="#555" stroke-dasharray="1,1"/>
<text x="914" y="17" font-size="11" fill="#555" font-weight="bold" >T</text>
<path d="M942.5 6 l3.5 3.6 h-2.5 v1 h-2 v-1 h-2.5 z M949.5 19 l3.4 -3.7 h-2.4 v-1.1 h-2 v1.1 h-2.4 z" fill="#4a4a4a"/><path d="M941.2 13.3 l2.2 2.4 l4.4 -5.3" stroke="#4a4a4a" stroke-width="1.3" fill="none"/>
<text x="986.5" y="16" font-size="9.5" fill="#444" textLength="12.5" lengthAdjust="spacingAndGlyphs" >M1</text>
<text x="1014.5" y="16" font-size="9.5" fill="#444" textLength="12.5" lengthAdjust="spacingAndGlyphs" >M5</text>
<text x="1040.5" y="16" font-size="9.5" fill="#444" textLength="18" lengthAdjust="spacingAndGlyphs" >M15</text>
<text x="1068.5" y="16" font-size="9.5" fill="#444" textLength="18" lengthAdjust="spacingAndGlyphs" >M30</text>
<text x="1099" y="16" font-size="9.5" fill="#444" textLength="12.5" lengthAdjust="spacingAndGlyphs" >H1</text>
<text x="1126" y="16" font-size="9.5" fill="#444" textLength="12.5" lengthAdjust="spacingAndGlyphs" >H4</text>
<text x="1155" y="16" font-size="9.5" fill="#444" textLength="12.5" lengthAdjust="spacingAndGlyphs" >D1</text>
<text x="1183" y="16" font-size="9.5" fill="#444" textLength="14" lengthAdjust="spacingAndGlyphs" >W1</text>
<text x="1210" y="16" font-size="9.5" fill="#444" textLength="14.5" lengthAdjust="spacingAndGlyphs" >MN</text>
<circle cx="1650" cy="9" r="3.9" fill="#fff" stroke="#2a5fd0" stroke-width="1.5"/><path d="M1647 12.5 L1642 17" stroke="#2a5fd0" stroke-width="2.4" stroke-linecap="round"/>
<path d="M1673.5 9.5 a6 5 0 1 0 -2 9.6 l-1 2.3 l3 -2 a7 5 0 0 0 6 -4 z" fill="#f4f4f8" stroke="#b8b8c0"/>
<defs><linearGradient id="gb" x1="0" y1="0" x2="0" y2="1"><stop offset="0" stop-color="#ea4a30"/><stop offset="1" stop-color="#c61a12"/></linearGradient></defs>
<circle cx="1680.5" cy="9.5" r="8" fill="url(#gb)"/>
<text x="1680.5" y="14" font-size="12" fill="#fff" text-anchor="middle" >1</text>
</svg></body></html>
